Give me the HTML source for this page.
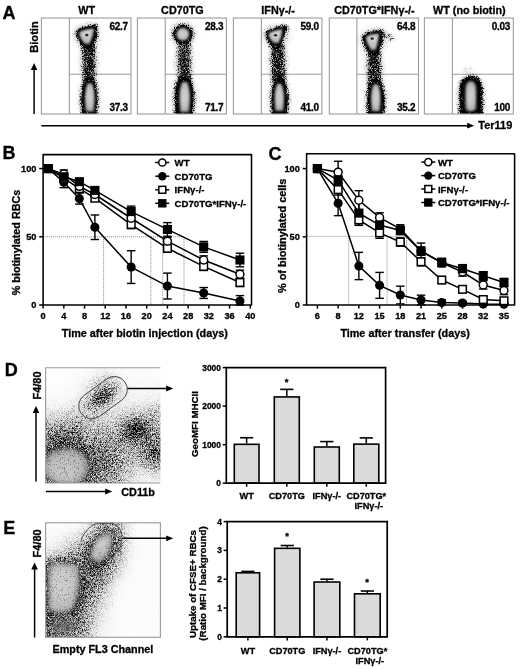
<!DOCTYPE html>
<html><head><meta charset="utf-8"><style>
html,body{margin:0;padding:0;background:#fff;}
svg{display:block;filter:blur(0.35px);}
text{font-family:"Liberation Sans", sans-serif;stroke:#000;stroke-width:0.3px;}
</style></head><body>
<svg width="520" height="669" viewBox="0 0 520 669">
<defs>
<filter id="dotb" x="-100%" y="-100%" width="300%" height="300%"><feGaussianBlur stdDeviation="0.4"/></filter>
<filter id="soft" x="-20%" y="-20%" width="140%" height="140%"><feGaussianBlur stdDeviation="0.9"/></filter>
<radialGradient id="gSoft"><stop offset="0" stop-color="#000" stop-opacity="1"/><stop offset="1" stop-color="#000" stop-opacity="0"/></radialGradient>
<radialGradient id="gPlat"><stop offset="0" stop-color="#000" stop-opacity="1"/><stop offset="0.55" stop-color="#000" stop-opacity="1"/><stop offset="1" stop-color="#000" stop-opacity="0"/></radialGradient>
<radialGradient id="gCore" cx="0.55" cy="0.35" r="0.62"><stop offset="0" stop-color="#d0d0d0"/><stop offset="0.3" stop-color="#d6d6d6"/><stop offset="0.45" stop-color="#b8b8b8"/><stop offset="0.6" stop-color="#cccccc"/><stop offset="0.85" stop-color="#b0b0b0"/><stop offset="1" stop-color="#808080"/></radialGradient>
<radialGradient id="gCoreL" cx="0.5" cy="0.5" r="0.55"><stop offset="0" stop-color="#d8d8d8"/><stop offset="0.7" stop-color="#c6c6c6"/><stop offset="0.9" stop-color="#a8a8a8"/><stop offset="1" stop-color="#909090"/></radialGradient>
<pattern id="barfill" width="2" height="2" patternUnits="userSpaceOnUse"><rect width="2" height="2" fill="#dddddd"/><rect width="1" height="1" fill="#d3d3d3"/></pattern>
<filter id="spA" filterUnits="userSpaceOnUse" x="0" y="0" width="520" height="669" color-interpolation-filters="sRGB">
<feGaussianBlur in="SourceAlpha" stdDeviation="1.1" result="d"/>
<feTurbulence type="fractalNoise" baseFrequency="1.5" numOctaves="1" seed="11" result="t"/>
<feColorMatrix in="t" type="matrix" values="0 0 0 0 0 0 0 0 0 0 0 0 0 0 0 1 0 0 0 0" result="ta"/>
<feComponentTransfer in="ta" result="u"><feFuncA type="table" tableValues="0.0000 0.0000 0.0001 0.0002 0.0004 0.0008 0.0016 0.0030 0.0056 0.0101 0.0174 0.0287 0.0456 0.0697 0.1026 0.1455 0.1992 0.2632 0.3364 0.4164 0.5000 0.5836 0.6636 0.7368 0.8008 0.8545 0.8974 0.9303 0.9544 0.9713 0.9826 0.9899 0.9944 0.9970 0.9984 0.9992 0.9996 0.9998 0.9999 1.0000 1.0000"/></feComponentTransfer>
<feTurbulence type="fractalNoise" baseFrequency="1.200" numOctaves="1" seed="111" result="t2"/>
<feColorMatrix in="t2" type="matrix" values="0 0 0 0 0 0 0 0 0 0 0 0 0 0 0 1 0 0 0 0" result="ta2"/>
<feComponentTransfer in="ta2" result="u2"><feFuncA type="table" tableValues="0.0000 0.0000 0.0001 0.0002 0.0004 0.0008 0.0016 0.0030 0.0056 0.0101 0.0174 0.0287 0.0456 0.0697 0.1026 0.1455 0.1992 0.2632 0.3364 0.4164 0.5000 0.5836 0.6636 0.7368 0.8008 0.8545 0.8974 0.9303 0.9544 0.9713 0.9826 0.9899 0.9944 0.9970 0.9984 0.9992 0.9996 0.9998 0.9999 1.0000 1.0000"/></feComponentTransfer>
<feComposite in="d" in2="u" operator="arithmetic" k1="0" k2="6" k3="-6" k4="0" result="c"/>
<feGaussianBlur in="c" stdDeviation="0.5" result="s"/>
<feComposite in="d" in2="u2" operator="arithmetic" k1="1.6" k2="0.19999999999999996" k3="0" k4="0" result="g0"/>
<feGaussianBlur in="g0" stdDeviation="0.4" result="g"/>
<feComposite in="s" in2="g" operator="arithmetic" k1="0" k2="0.6" k3="0.55" k4="0"/>
</filter>
<filter id="spH" filterUnits="userSpaceOnUse" x="0" y="0" width="520" height="669" color-interpolation-filters="sRGB">
<feGaussianBlur in="SourceAlpha" stdDeviation="2.6" result="d"/>
<feTurbulence type="fractalNoise" baseFrequency="1.5" numOctaves="1" seed="5" result="t"/>
<feColorMatrix in="t" type="matrix" values="0 0 0 0 0 0 0 0 0 0 0 0 0 0 0 1 0 0 0 0" result="ta"/>
<feComponentTransfer in="ta" result="u"><feFuncA type="table" tableValues="0.0000 0.0000 0.0001 0.0002 0.0004 0.0008 0.0016 0.0030 0.0056 0.0101 0.0174 0.0287 0.0456 0.0697 0.1026 0.1455 0.1992 0.2632 0.3364 0.4164 0.5000 0.5836 0.6636 0.7368 0.8008 0.8545 0.8974 0.9303 0.9544 0.9713 0.9826 0.9899 0.9944 0.9970 0.9984 0.9992 0.9996 0.9998 0.9999 1.0000 1.0000"/></feComponentTransfer>
<feTurbulence type="fractalNoise" baseFrequency="1.200" numOctaves="1" seed="105" result="t2"/>
<feColorMatrix in="t2" type="matrix" values="0 0 0 0 0 0 0 0 0 0 0 0 0 0 0 1 0 0 0 0" result="ta2"/>
<feComponentTransfer in="ta2" result="u2"><feFuncA type="table" tableValues="0.0000 0.0000 0.0001 0.0002 0.0004 0.0008 0.0016 0.0030 0.0056 0.0101 0.0174 0.0287 0.0456 0.0697 0.1026 0.1455 0.1992 0.2632 0.3364 0.4164 0.5000 0.5836 0.6636 0.7368 0.8008 0.8545 0.8974 0.9303 0.9544 0.9713 0.9826 0.9899 0.9944 0.9970 0.9984 0.9992 0.9996 0.9998 0.9999 1.0000 1.0000"/></feComponentTransfer>
<feComposite in="d" in2="u" operator="arithmetic" k1="0" k2="4" k3="-4" k4="0" result="c"/>
<feGaussianBlur in="c" stdDeviation="0.55" result="s"/>
<feComposite in="d" in2="u2" operator="arithmetic" k1="1.6" k2="0.19999999999999996" k3="0" k4="0" result="g0"/>
<feGaussianBlur in="g0" stdDeviation="0.4" result="g"/>
<feComposite in="s" in2="g" operator="arithmetic" k1="0" k2="0.7" k3="0.35" k4="0"/>
</filter>
<radialGradient id="gCoreB" cx="0.5" cy="0.5" r="0.6"><stop offset="0" stop-color="#d2d2d2"/><stop offset="0.55" stop-color="#c2c2c2"/><stop offset="0.8" stop-color="#a6a6a6"/><stop offset="1" stop-color="#7a7a7a"/></radialGradient>
<clipPath id="clA0"><rect x="41.4" y="18" width="89.6" height="96"/></clipPath>
<clipPath id="clA1"><rect x="137.4" y="18" width="89.0" height="96"/></clipPath>
<clipPath id="clA2"><rect x="233.4" y="18" width="88.49999999999997" height="96"/></clipPath>
<clipPath id="clA3"><rect x="329.3" y="18" width="89.19999999999999" height="96"/></clipPath>
<clipPath id="clA4"><rect x="424.4" y="18" width="88.89999999999998" height="96"/></clipPath>
<filter id="spG" filterUnits="userSpaceOnUse" x="0" y="0" width="520" height="669" color-interpolation-filters="sRGB">
<feGaussianBlur in="SourceAlpha" stdDeviation="4.0" result="d"/>
<feTurbulence type="fractalNoise" baseFrequency="1.5" numOctaves="1" seed="23" result="t"/>
<feColorMatrix in="t" type="matrix" values="0 0 0 0 0 0 0 0 0 0 0 0 0 0 0 1 0 0 0 0" result="ta"/>
<feComponentTransfer in="ta" result="u"><feFuncA type="table" tableValues="0.0000 0.0000 0.0001 0.0002 0.0004 0.0008 0.0016 0.0030 0.0056 0.0101 0.0174 0.0287 0.0456 0.0697 0.1026 0.1455 0.1992 0.2632 0.3364 0.4164 0.5000 0.5836 0.6636 0.7368 0.8008 0.8545 0.8974 0.9303 0.9544 0.9713 0.9826 0.9899 0.9944 0.9970 0.9984 0.9992 0.9996 0.9998 0.9999 1.0000 1.0000"/></feComponentTransfer>
<feTurbulence type="fractalNoise" baseFrequency="1.200" numOctaves="1" seed="123" result="t2"/>
<feColorMatrix in="t2" type="matrix" values="0 0 0 0 0 0 0 0 0 0 0 0 0 0 0 1 0 0 0 0" result="ta2"/>
<feComponentTransfer in="ta2" result="u2"><feFuncA type="table" tableValues="0.0000 0.0000 0.0001 0.0002 0.0004 0.0008 0.0016 0.0030 0.0056 0.0101 0.0174 0.0287 0.0456 0.0697 0.1026 0.1455 0.1992 0.2632 0.3364 0.4164 0.5000 0.5836 0.6636 0.7368 0.8008 0.8545 0.8974 0.9303 0.9544 0.9713 0.9826 0.9899 0.9944 0.9970 0.9984 0.9992 0.9996 0.9998 0.9999 1.0000 1.0000"/></feComponentTransfer>
<feComposite in="d" in2="u" operator="arithmetic" k1="0" k2="3" k3="-3" k4="0" result="c"/>
<feGaussianBlur in="c" stdDeviation="0.6" result="s"/>
<feComposite in="d" in2="u2" operator="arithmetic" k1="1.7" k2="0.15000000000000002" k3="0" k4="0" result="g0"/>
<feGaussianBlur in="g0" stdDeviation="0.45" result="g"/>
<feComposite in="s" in2="g" operator="arithmetic" k1="0" k2="0.45" k3="0.6" k4="0"/>
</filter>
<filter id="spG2" filterUnits="userSpaceOnUse" x="0" y="0" width="520" height="669" color-interpolation-filters="sRGB">
<feGaussianBlur in="SourceAlpha" stdDeviation="4.0" result="d"/>
<feTurbulence type="fractalNoise" baseFrequency="1.5" numOctaves="1" seed="41" result="t"/>
<feColorMatrix in="t" type="matrix" values="0 0 0 0 0 0 0 0 0 0 0 0 0 0 0 1 0 0 0 0" result="ta"/>
<feComponentTransfer in="ta" result="u"><feFuncA type="table" tableValues="0.0000 0.0000 0.0001 0.0002 0.0004 0.0008 0.0016 0.0030 0.0056 0.0101 0.0174 0.0287 0.0456 0.0697 0.1026 0.1455 0.1992 0.2632 0.3364 0.4164 0.5000 0.5836 0.6636 0.7368 0.8008 0.8545 0.8974 0.9303 0.9544 0.9713 0.9826 0.9899 0.9944 0.9970 0.9984 0.9992 0.9996 0.9998 0.9999 1.0000 1.0000"/></feComponentTransfer>
<feTurbulence type="fractalNoise" baseFrequency="1.200" numOctaves="1" seed="141" result="t2"/>
<feColorMatrix in="t2" type="matrix" values="0 0 0 0 0 0 0 0 0 0 0 0 0 0 0 1 0 0 0 0" result="ta2"/>
<feComponentTransfer in="ta2" result="u2"><feFuncA type="table" tableValues="0.0000 0.0000 0.0001 0.0002 0.0004 0.0008 0.0016 0.0030 0.0056 0.0101 0.0174 0.0287 0.0456 0.0697 0.1026 0.1455 0.1992 0.2632 0.3364 0.4164 0.5000 0.5836 0.6636 0.7368 0.8008 0.8545 0.8974 0.9303 0.9544 0.9713 0.9826 0.9899 0.9944 0.9970 0.9984 0.9992 0.9996 0.9998 0.9999 1.0000 1.0000"/></feComponentTransfer>
<feComposite in="d" in2="u" operator="arithmetic" k1="0" k2="3" k3="-3" k4="0" result="c"/>
<feGaussianBlur in="c" stdDeviation="0.6" result="s"/>
<feComposite in="d" in2="u2" operator="arithmetic" k1="1.7" k2="0.15000000000000002" k3="0" k4="0" result="g0"/>
<feGaussianBlur in="g0" stdDeviation="0.45" result="g"/>
<feComposite in="s" in2="g" operator="arithmetic" k1="0" k2="0.45" k3="0.6" k4="0"/>
</filter>
<filter id="spT" filterUnits="userSpaceOnUse" x="0" y="0" width="520" height="669" color-interpolation-filters="sRGB">
<feGaussianBlur in="SourceAlpha" stdDeviation="2.0" result="d"/>
<feTurbulence type="fractalNoise" baseFrequency="1.5" numOctaves="1" seed="53" result="t"/>
<feColorMatrix in="t" type="matrix" values="0 0 0 0 0 0 0 0 0 0 0 0 0 0 0 1 0 0 0 0" result="ta"/>
<feComponentTransfer in="ta" result="u"><feFuncA type="table" tableValues="0.0000 0.0000 0.0001 0.0002 0.0004 0.0008 0.0016 0.0030 0.0056 0.0101 0.0174 0.0287 0.0456 0.0697 0.1026 0.1455 0.1992 0.2632 0.3364 0.4164 0.5000 0.5836 0.6636 0.7368 0.8008 0.8545 0.8974 0.9303 0.9544 0.9713 0.9826 0.9899 0.9944 0.9970 0.9984 0.9992 0.9996 0.9998 0.9999 1.0000 1.0000"/></feComponentTransfer>
<feComposite in="d" in2="u" operator="arithmetic" k1="0" k2="3" k3="-3" k4="0" result="c"/>
<feGaussianBlur in="c" stdDeviation="0.6" result="s"/>
<feComposite in="s" in2="d" operator="arithmetic" k1="0" k2="0.7" k3="0.15" k4="0"/>
</filter>
<filter id="blur25" x="-50%" y="-50%" width="200%" height="200%"><feGaussianBlur stdDeviation="2.5"/></filter>
<filter id="blur3" x="-50%" y="-50%" width="200%" height="200%"><feGaussianBlur stdDeviation="3"/></filter>
<filter id="blur15" x="-50%" y="-50%" width="200%" height="200%"><feGaussianBlur stdDeviation="1.5"/></filter>
<clipPath id="clD"><rect x="45.6" y="367.7" width="114.80000000000001" height="115.30000000000001"/></clipPath>
<clipPath id="clE"><rect x="45.6" y="522.8" width="114.80000000000001" height="114.5"/></clipPath>
</defs>
<rect width="520" height="669" fill="#fff"/>
<text x="2.6" y="18.6" font-size="18" text-anchor="start" font-weight="bold" fill="#000">A</text>
<text x="86.7" y="13.7" font-size="10.8" text-anchor="middle" font-weight="bold" fill="#000">WT</text>
<text x="182.4" y="13.7" font-size="10.8" text-anchor="middle" font-weight="bold" fill="#000">CD70TG</text>
<text x="278.15" y="13.7" font-size="10.8" text-anchor="middle" font-weight="bold" fill="#000">IFNγ-/-</text>
<text x="374.4" y="13.7" font-size="10.8" text-anchor="middle" font-weight="bold" fill="#000">CD70TG*IFNγ-/-</text>
<text x="469.34999999999997" y="13.7" font-size="10.8" text-anchor="middle" font-weight="bold" fill="#000">WT (no biotin)</text>
<text x="127.8" y="29.9" font-size="10" text-anchor="end" font-weight="bold" fill="#000" letter-spacing="-0.3">62.7</text>
<text x="127.8" y="110.6" font-size="10" text-anchor="end" font-weight="bold" fill="#000" letter-spacing="-0.3">37.3</text>
<text x="223.20000000000002" y="29.9" font-size="10" text-anchor="end" font-weight="bold" fill="#000" letter-spacing="-0.3">28.3</text>
<text x="223.20000000000002" y="110.6" font-size="10" text-anchor="end" font-weight="bold" fill="#000" letter-spacing="-0.3">71.7</text>
<text x="318.7" y="29.9" font-size="10" text-anchor="end" font-weight="bold" fill="#000" letter-spacing="-0.3">59.0</text>
<text x="318.7" y="110.6" font-size="10" text-anchor="end" font-weight="bold" fill="#000" letter-spacing="-0.3">41.0</text>
<text x="415.3" y="29.9" font-size="10" text-anchor="end" font-weight="bold" fill="#000" letter-spacing="-0.3">64.8</text>
<text x="415.3" y="110.6" font-size="10" text-anchor="end" font-weight="bold" fill="#000" letter-spacing="-0.3">35.2</text>
<text x="510.09999999999997" y="29.9" font-size="10" text-anchor="end" font-weight="bold" fill="#000" letter-spacing="-0.3">0.03</text>
<text x="510.09999999999997" y="110.6" font-size="10" text-anchor="end" font-weight="bold" fill="#000" letter-spacing="-0.3">100</text>
<text x="37.7" y="37.0" font-size="11.1" text-anchor="middle" font-weight="bold" fill="#000" transform="rotate(-90 37.7 37.0)">Biotin</text>
<line x1="34.1" y1="114" x2="34.1" y2="69.4" stroke="#000" stroke-width="1.5"/>
<path d="M34.1,62.9 L30.8,69.9 L37.4,69.9 Z" fill="#000" stroke="none" stroke-width="1.0"/>
<line x1="41.3" y1="125.7" x2="467.7" y2="125.7" stroke="#000" stroke-width="1.5"/>
<path d="M474.2,125.7 L467.2,122.8 L467.2,128.6 Z" fill="#000" stroke="none" stroke-width="1.0"/>
<text x="478.3" y="129.3" font-size="11.0" text-anchor="start" font-weight="bold" fill="#000">Ter119</text>
<text x="2.6" y="159.4" font-size="18" text-anchor="start" font-weight="bold" fill="#000">B</text>
<line x1="43.1" y1="236.8" x2="184.0" y2="236.8" stroke="#8a8a8a" stroke-width="1" stroke-dasharray="1 1"/>
<line x1="103.6" y1="236.8" x2="103.6" y2="305.0" stroke="#8a8a8a" stroke-width="1" stroke-dasharray="1 1"/>
<line x1="150.8" y1="236.8" x2="150.8" y2="305.0" stroke="#8a8a8a" stroke-width="1" stroke-dasharray="1 1"/>
<line x1="162.7" y1="236.8" x2="162.7" y2="305.0" stroke="#8a8a8a" stroke-width="1" stroke-dasharray="1 1"/>
<line x1="184.0" y1="236.8" x2="184.0" y2="305.0" stroke="#8a8a8a" stroke-width="1" stroke-dasharray="1 1"/>
<polyline points="48.28,168.60 63.82,182.24 79.36,198.61 94.90,227.25 131.16,267.08 167.42,286.04 203.68,293.00 239.94,301.04" fill="none" stroke="#000" stroke-width="1.5"/>
<polyline points="48.28,168.60 63.82,178.15 79.36,188.65 94.90,198.20 131.16,224.52 167.42,248.26 203.68,266.40 239.94,282.49" fill="none" stroke="#000" stroke-width="1.5"/>
<polyline points="48.28,168.60 63.82,174.06 79.36,186.33 94.90,194.52 131.16,218.25 167.42,241.16 203.68,259.99 239.94,274.31" fill="none" stroke="#000" stroke-width="1.5"/>
<polyline points="48.28,168.60 63.82,176.78 79.36,181.69 94.90,190.42 131.16,211.57 167.42,229.43 203.68,246.89 239.94,259.99" fill="none" stroke="#000" stroke-width="1.5"/>
<line x1="63.82" y1="176.784" x2="63.82" y2="187.696" stroke="#000" stroke-width="1.4"/>
<line x1="59.57" y1="176.784" x2="68.07" y2="176.784" stroke="#000" stroke-width="1.4"/>
<line x1="59.57" y1="187.696" x2="68.07" y2="187.696" stroke="#000" stroke-width="1.4"/>
<line x1="79.36" y1="193.152" x2="79.36" y2="204.064" stroke="#000" stroke-width="1.4"/>
<line x1="75.11" y1="193.152" x2="83.61" y2="193.152" stroke="#000" stroke-width="1.4"/>
<line x1="75.11" y1="204.064" x2="83.61" y2="204.064" stroke="#000" stroke-width="1.4"/>
<line x1="94.9" y1="214.976" x2="94.9" y2="239.528" stroke="#000" stroke-width="1.4"/>
<line x1="90.65" y1="214.976" x2="99.15" y2="214.976" stroke="#000" stroke-width="1.4"/>
<line x1="90.65" y1="239.528" x2="99.15" y2="239.528" stroke="#000" stroke-width="1.4"/>
<line x1="131.16" y1="250.71280000000002" x2="131.16" y2="283.4488" stroke="#000" stroke-width="1.4"/>
<line x1="126.91" y1="250.71280000000002" x2="135.41" y2="250.71280000000002" stroke="#000" stroke-width="1.4"/>
<line x1="126.91" y1="283.4488" x2="135.41" y2="283.4488" stroke="#000" stroke-width="1.4"/>
<line x1="167.42" y1="273.0824" x2="167.42" y2="298.9984" stroke="#000" stroke-width="1.4"/>
<line x1="163.17" y1="273.0824" x2="171.67" y2="273.0824" stroke="#000" stroke-width="1.4"/>
<line x1="163.17" y1="298.9984" x2="171.67" y2="298.9984" stroke="#000" stroke-width="1.4"/>
<line x1="203.67999999999998" y1="287.5408" x2="203.67999999999998" y2="298.4528" stroke="#000" stroke-width="1.4"/>
<line x1="199.42999999999998" y1="287.5408" x2="207.92999999999998" y2="287.5408" stroke="#000" stroke-width="1.4"/>
<line x1="199.42999999999998" y1="298.4528" x2="207.92999999999998" y2="298.4528" stroke="#000" stroke-width="1.4"/>
<line x1="239.93999999999997" y1="295.5884" x2="239.93999999999997" y2="305" stroke="#000" stroke-width="1.4"/>
<line x1="235.68999999999997" y1="295.5884" x2="244.18999999999997" y2="295.5884" stroke="#000" stroke-width="1.4"/>
<line x1="235.68999999999997" y1="305" x2="244.18999999999997" y2="305" stroke="#000" stroke-width="1.4"/>
<line x1="63.82" y1="174.05599999999998" x2="63.82" y2="182.24" stroke="#000" stroke-width="1.4"/>
<line x1="59.57" y1="174.05599999999998" x2="68.07" y2="174.05599999999998" stroke="#000" stroke-width="1.4"/>
<line x1="59.57" y1="182.24" x2="68.07" y2="182.24" stroke="#000" stroke-width="1.4"/>
<line x1="79.36" y1="185.9228" x2="79.36" y2="191.3788" stroke="#000" stroke-width="1.4"/>
<line x1="75.11" y1="185.9228" x2="83.61" y2="185.9228" stroke="#000" stroke-width="1.4"/>
<line x1="75.11" y1="191.3788" x2="83.61" y2="191.3788" stroke="#000" stroke-width="1.4"/>
<line x1="94.9" y1="195.4708" x2="94.9" y2="200.92680000000001" stroke="#000" stroke-width="1.4"/>
<line x1="90.65" y1="195.4708" x2="99.15" y2="195.4708" stroke="#000" stroke-width="1.4"/>
<line x1="90.65" y1="200.92680000000001" x2="99.15" y2="200.92680000000001" stroke="#000" stroke-width="1.4"/>
<line x1="131.16" y1="220.432" x2="131.16" y2="228.61599999999999" stroke="#000" stroke-width="1.4"/>
<line x1="126.91" y1="220.432" x2="135.41" y2="220.432" stroke="#000" stroke-width="1.4"/>
<line x1="126.91" y1="228.61599999999999" x2="135.41" y2="228.61599999999999" stroke="#000" stroke-width="1.4"/>
<line x1="167.42" y1="244.16559999999998" x2="167.42" y2="252.3496" stroke="#000" stroke-width="1.4"/>
<line x1="163.17" y1="244.16559999999998" x2="171.67" y2="244.16559999999998" stroke="#000" stroke-width="1.4"/>
<line x1="163.17" y1="252.3496" x2="171.67" y2="252.3496" stroke="#000" stroke-width="1.4"/>
<line x1="203.67999999999998" y1="262.3068" x2="203.67999999999998" y2="270.4908" stroke="#000" stroke-width="1.4"/>
<line x1="199.42999999999998" y1="262.3068" x2="207.92999999999998" y2="262.3068" stroke="#000" stroke-width="1.4"/>
<line x1="199.42999999999998" y1="270.4908" x2="207.92999999999998" y2="270.4908" stroke="#000" stroke-width="1.4"/>
<line x1="239.93999999999997" y1="278.402" x2="239.93999999999997" y2="286.586" stroke="#000" stroke-width="1.4"/>
<line x1="235.68999999999997" y1="278.402" x2="244.18999999999997" y2="278.402" stroke="#000" stroke-width="1.4"/>
<line x1="235.68999999999997" y1="286.586" x2="244.18999999999997" y2="286.586" stroke="#000" stroke-width="1.4"/>
<line x1="63.82" y1="169.964" x2="63.82" y2="178.148" stroke="#000" stroke-width="1.4"/>
<line x1="59.57" y1="169.964" x2="68.07" y2="169.964" stroke="#000" stroke-width="1.4"/>
<line x1="59.57" y1="178.148" x2="68.07" y2="178.148" stroke="#000" stroke-width="1.4"/>
<line x1="79.36" y1="183.60399999999998" x2="79.36" y2="189.06" stroke="#000" stroke-width="1.4"/>
<line x1="75.11" y1="183.60399999999998" x2="83.61" y2="183.60399999999998" stroke="#000" stroke-width="1.4"/>
<line x1="75.11" y1="189.06" x2="83.61" y2="189.06" stroke="#000" stroke-width="1.4"/>
<line x1="94.9" y1="191.788" x2="94.9" y2="197.24399999999997" stroke="#000" stroke-width="1.4"/>
<line x1="90.65" y1="191.788" x2="99.15" y2="191.788" stroke="#000" stroke-width="1.4"/>
<line x1="90.65" y1="197.24399999999997" x2="99.15" y2="197.24399999999997" stroke="#000" stroke-width="1.4"/>
<line x1="131.16" y1="214.1576" x2="131.16" y2="222.34159999999997" stroke="#000" stroke-width="1.4"/>
<line x1="126.91" y1="214.1576" x2="135.41" y2="214.1576" stroke="#000" stroke-width="1.4"/>
<line x1="126.91" y1="222.34159999999997" x2="135.41" y2="222.34159999999997" stroke="#000" stroke-width="1.4"/>
<line x1="167.42" y1="237.0728" x2="167.42" y2="245.2568" stroke="#000" stroke-width="1.4"/>
<line x1="163.17" y1="237.0728" x2="171.67" y2="237.0728" stroke="#000" stroke-width="1.4"/>
<line x1="163.17" y1="245.2568" x2="171.67" y2="245.2568" stroke="#000" stroke-width="1.4"/>
<line x1="203.67999999999998" y1="255.896" x2="203.67999999999998" y2="264.08" stroke="#000" stroke-width="1.4"/>
<line x1="199.42999999999998" y1="255.896" x2="207.92999999999998" y2="255.896" stroke="#000" stroke-width="1.4"/>
<line x1="199.42999999999998" y1="264.08" x2="207.92999999999998" y2="264.08" stroke="#000" stroke-width="1.4"/>
<line x1="239.93999999999997" y1="270.218" x2="239.93999999999997" y2="278.402" stroke="#000" stroke-width="1.4"/>
<line x1="235.68999999999997" y1="270.218" x2="244.18999999999997" y2="270.218" stroke="#000" stroke-width="1.4"/>
<line x1="235.68999999999997" y1="278.402" x2="244.18999999999997" y2="278.402" stroke="#000" stroke-width="1.4"/>
<line x1="63.82" y1="172.69199999999998" x2="63.82" y2="180.87599999999998" stroke="#000" stroke-width="1.4"/>
<line x1="59.57" y1="172.69199999999998" x2="68.07" y2="172.69199999999998" stroke="#000" stroke-width="1.4"/>
<line x1="59.57" y1="180.87599999999998" x2="68.07" y2="180.87599999999998" stroke="#000" stroke-width="1.4"/>
<line x1="79.36" y1="178.96639999999996" x2="79.36" y2="184.42239999999998" stroke="#000" stroke-width="1.4"/>
<line x1="75.11" y1="178.96639999999996" x2="83.61" y2="178.96639999999996" stroke="#000" stroke-width="1.4"/>
<line x1="75.11" y1="184.42239999999998" x2="83.61" y2="184.42239999999998" stroke="#000" stroke-width="1.4"/>
<line x1="94.9" y1="187.696" x2="94.9" y2="193.152" stroke="#000" stroke-width="1.4"/>
<line x1="90.65" y1="187.696" x2="99.15" y2="187.696" stroke="#000" stroke-width="1.4"/>
<line x1="90.65" y1="193.152" x2="99.15" y2="193.152" stroke="#000" stroke-width="1.4"/>
<line x1="131.16" y1="206.11" x2="131.16" y2="217.022" stroke="#000" stroke-width="1.4"/>
<line x1="126.91" y1="206.11" x2="135.41" y2="206.11" stroke="#000" stroke-width="1.4"/>
<line x1="126.91" y1="217.022" x2="135.41" y2="217.022" stroke="#000" stroke-width="1.4"/>
<line x1="167.42" y1="222.6144" x2="167.42" y2="236.25439999999998" stroke="#000" stroke-width="1.4"/>
<line x1="163.17" y1="222.6144" x2="171.67" y2="222.6144" stroke="#000" stroke-width="1.4"/>
<line x1="163.17" y1="236.25439999999998" x2="171.67" y2="236.25439999999998" stroke="#000" stroke-width="1.4"/>
<line x1="203.67999999999998" y1="241.4376" x2="203.67999999999998" y2="252.3496" stroke="#000" stroke-width="1.4"/>
<line x1="199.42999999999998" y1="241.4376" x2="207.92999999999998" y2="241.4376" stroke="#000" stroke-width="1.4"/>
<line x1="199.42999999999998" y1="252.3496" x2="207.92999999999998" y2="252.3496" stroke="#000" stroke-width="1.4"/>
<line x1="239.93999999999997" y1="253.168" x2="239.93999999999997" y2="266.808" stroke="#000" stroke-width="1.4"/>
<line x1="235.68999999999997" y1="253.168" x2="244.18999999999997" y2="253.168" stroke="#000" stroke-width="1.4"/>
<line x1="235.68999999999997" y1="266.808" x2="244.18999999999997" y2="266.808" stroke="#000" stroke-width="1.4"/>
<circle cx="48.28" cy="168.6" r="4.55" fill="#000"/>
<circle cx="63.82" cy="182.24" r="4.55" fill="#000"/>
<circle cx="79.36" cy="198.608" r="4.55" fill="#000"/>
<circle cx="94.9" cy="227.252" r="4.55" fill="#000"/>
<circle cx="131.16" cy="267.0808" r="4.55" fill="#000"/>
<circle cx="167.42" cy="286.0404" r="4.55" fill="#000"/>
<circle cx="203.67999999999998" cy="292.9968" r="4.55" fill="#000"/>
<circle cx="239.93999999999997" cy="301.0444" r="4.55" fill="#000"/>
<rect x="44.480000000000004" y="164.79999999999998" width="7.6" height="7.6" fill="#fff" stroke="#000" stroke-width="1.5"/>
<rect x="60.02" y="174.34799999999998" width="7.6" height="7.6" fill="#fff" stroke="#000" stroke-width="1.5"/>
<rect x="75.56" y="184.8508" width="7.6" height="7.6" fill="#fff" stroke="#000" stroke-width="1.5"/>
<rect x="91.10000000000001" y="194.3988" width="7.6" height="7.6" fill="#fff" stroke="#000" stroke-width="1.5"/>
<rect x="127.36" y="220.724" width="7.6" height="7.6" fill="#fff" stroke="#000" stroke-width="1.5"/>
<rect x="163.61999999999998" y="244.45759999999999" width="7.6" height="7.6" fill="#fff" stroke="#000" stroke-width="1.5"/>
<rect x="199.87999999999997" y="262.5988" width="7.6" height="7.6" fill="#fff" stroke="#000" stroke-width="1.5"/>
<rect x="236.13999999999996" y="278.694" width="7.6" height="7.6" fill="#fff" stroke="#000" stroke-width="1.5"/>
<circle cx="48.28" cy="168.6" r="3.9499999999999997" fill="#fff" stroke="#000" stroke-width="1.5"/>
<circle cx="63.82" cy="174.05599999999998" r="3.9499999999999997" fill="#fff" stroke="#000" stroke-width="1.5"/>
<circle cx="79.36" cy="186.332" r="3.9499999999999997" fill="#fff" stroke="#000" stroke-width="1.5"/>
<circle cx="94.9" cy="194.516" r="3.9499999999999997" fill="#fff" stroke="#000" stroke-width="1.5"/>
<circle cx="131.16" cy="218.2496" r="3.9499999999999997" fill="#fff" stroke="#000" stroke-width="1.5"/>
<circle cx="167.42" cy="241.1648" r="3.9499999999999997" fill="#fff" stroke="#000" stroke-width="1.5"/>
<circle cx="203.67999999999998" cy="259.988" r="3.9499999999999997" fill="#fff" stroke="#000" stroke-width="1.5"/>
<circle cx="239.93999999999997" cy="274.31" r="3.9499999999999997" fill="#fff" stroke="#000" stroke-width="1.5"/>
<rect x="43.730000000000004" y="164.04999999999998" width="9.1" height="9.1" fill="#000"/>
<rect x="59.27" y="172.23399999999998" width="9.1" height="9.1" fill="#000"/>
<rect x="74.81" y="177.14439999999996" width="9.1" height="9.1" fill="#000"/>
<rect x="90.35000000000001" y="185.87399999999997" width="9.1" height="9.1" fill="#000"/>
<rect x="126.61" y="207.01599999999996" width="9.1" height="9.1" fill="#000"/>
<rect x="162.86999999999998" y="224.88439999999997" width="9.1" height="9.1" fill="#000"/>
<rect x="199.12999999999997" y="242.34359999999998" width="9.1" height="9.1" fill="#000"/>
<rect x="235.38999999999996" y="255.438" width="9.1" height="9.1" fill="#000"/>
<rect x="43.1" y="154.6" width="208.4" height="150.4" fill="none" stroke="#000" stroke-width="1.55" stroke-linejoin="round"/>
<line x1="39.2" y1="305.0" x2="43.1" y2="305.0" stroke="#000" stroke-width="1.5"/>
<text x="36.4" y="308.4" font-size="9.2" text-anchor="end" font-weight="bold" fill="#000">0</text>
<line x1="39.2" y1="236.8" x2="43.1" y2="236.8" stroke="#000" stroke-width="1.5"/>
<text x="36.4" y="240.20000000000002" font-size="9.2" text-anchor="end" font-weight="bold" fill="#000">50</text>
<line x1="39.2" y1="168.6" x2="43.1" y2="168.6" stroke="#000" stroke-width="1.5"/>
<text x="36.4" y="172.0" font-size="9.2" text-anchor="end" font-weight="bold" fill="#000">100</text>
<line x1="43.1" y1="305.0" x2="43.1" y2="308.6" stroke="#000" stroke-width="1.5"/>
<text x="43.1" y="319.4" font-size="9.2" text-anchor="middle" font-weight="bold" fill="#000">0</text>
<line x1="63.82" y1="305.0" x2="63.82" y2="308.6" stroke="#000" stroke-width="1.5"/>
<text x="63.82" y="319.4" font-size="9.2" text-anchor="middle" font-weight="bold" fill="#000">4</text>
<line x1="84.53999999999999" y1="305.0" x2="84.53999999999999" y2="308.6" stroke="#000" stroke-width="1.5"/>
<text x="84.53999999999999" y="319.4" font-size="9.2" text-anchor="middle" font-weight="bold" fill="#000">8</text>
<line x1="105.25999999999999" y1="305.0" x2="105.25999999999999" y2="308.6" stroke="#000" stroke-width="1.5"/>
<text x="105.25999999999999" y="319.4" font-size="9.2" text-anchor="middle" font-weight="bold" fill="#000">12</text>
<line x1="125.97999999999999" y1="305.0" x2="125.97999999999999" y2="308.6" stroke="#000" stroke-width="1.5"/>
<text x="125.97999999999999" y="319.4" font-size="9.2" text-anchor="middle" font-weight="bold" fill="#000">16</text>
<line x1="146.7" y1="305.0" x2="146.7" y2="308.6" stroke="#000" stroke-width="1.5"/>
<text x="146.7" y="319.4" font-size="9.2" text-anchor="middle" font-weight="bold" fill="#000">20</text>
<line x1="167.42" y1="305.0" x2="167.42" y2="308.6" stroke="#000" stroke-width="1.5"/>
<text x="167.42" y="319.4" font-size="9.2" text-anchor="middle" font-weight="bold" fill="#000">24</text>
<line x1="188.14" y1="305.0" x2="188.14" y2="308.6" stroke="#000" stroke-width="1.5"/>
<text x="188.14" y="319.4" font-size="9.2" text-anchor="middle" font-weight="bold" fill="#000">28</text>
<line x1="208.85999999999999" y1="305.0" x2="208.85999999999999" y2="308.6" stroke="#000" stroke-width="1.5"/>
<text x="208.85999999999999" y="319.4" font-size="9.2" text-anchor="middle" font-weight="bold" fill="#000">32</text>
<line x1="229.57999999999998" y1="305.0" x2="229.57999999999998" y2="308.6" stroke="#000" stroke-width="1.5"/>
<text x="229.57999999999998" y="319.4" font-size="9.2" text-anchor="middle" font-weight="bold" fill="#000">36</text>
<line x1="250.29999999999998" y1="305.0" x2="250.29999999999998" y2="308.6" stroke="#000" stroke-width="1.5"/>
<text x="250.29999999999998" y="319.4" font-size="9.2" text-anchor="middle" font-weight="bold" fill="#000">40</text>
<text x="144.8" y="337.0" font-size="10.8" text-anchor="middle" font-weight="bold" fill="#000">Time after biotin injection (days)</text>
<text x="19.6" y="242.5" font-size="10.8" text-anchor="middle" font-weight="bold" fill="#000" transform="rotate(-90 19.6 242.5)">% biotinylated RBCs</text>
<line x1="155.3" y1="162.5" x2="169.3" y2="162.5" stroke="#000" stroke-width="1.5"/>
<circle cx="162.3" cy="162.5" r="3.6" fill="#fff" stroke="#000" stroke-width="1.5"/>
<text x="174.6" y="166.0" font-size="9.65" text-anchor="start" font-weight="bold" fill="#000">WT</text>
<line x1="155.3" y1="176.2" x2="169.3" y2="176.2" stroke="#000" stroke-width="1.5"/>
<circle cx="162.3" cy="176.2" r="4.2" fill="#000"/>
<text x="174.6" y="179.7" font-size="9.65" text-anchor="start" font-weight="bold" fill="#000">CD70TG</text>
<line x1="155.3" y1="189.8" x2="169.3" y2="189.8" stroke="#000" stroke-width="1.5"/>
<rect x="158.85000000000002" y="186.35000000000002" width="6.9" height="6.9" fill="#fff" stroke="#000" stroke-width="1.5"/>
<text x="174.6" y="193.3" font-size="9.65" text-anchor="start" font-weight="bold" fill="#000">IFNγ-/-</text>
<line x1="155.3" y1="203.3" x2="169.3" y2="203.3" stroke="#000" stroke-width="1.5"/>
<rect x="158.10000000000002" y="199.10000000000002" width="8.4" height="8.4" fill="#000"/>
<text x="174.6" y="206.8" font-size="9.65" text-anchor="start" font-weight="bold" fill="#000">CD70TG*IFNγ-/-</text>
<text x="268.4" y="159.6" font-size="18" text-anchor="start" font-weight="bold" fill="#000">C</text>
<line x1="306.6" y1="236.3" x2="406.5" y2="236.3" stroke="#8a8a8a" stroke-width="1" stroke-dasharray="1 1"/>
<line x1="348.7" y1="236.3" x2="348.7" y2="305.0" stroke="#8a8a8a" stroke-width="1" stroke-dasharray="1 1"/>
<line x1="387.1" y1="236.3" x2="387.1" y2="305.0" stroke="#8a8a8a" stroke-width="1" stroke-dasharray="1 1"/>
<line x1="406.5" y1="236.3" x2="406.5" y2="305.0" stroke="#8a8a8a" stroke-width="1" stroke-dasharray="1 1"/>
<polyline points="317.40,168.60 338.13,203.38 358.86,265.99 379.59,285.36 400.32,295.04 421.05,299.95 441.78,302.54 462.51,303.09 483.24,304.05 503.97,304.32" fill="none" stroke="#000" stroke-width="1.5"/>
<polyline points="317.40,168.60 338.13,189.61 358.86,219.89 379.59,232.84 400.32,241.98 421.05,261.76 441.78,280.04 462.51,289.31 483.24,299.54 503.97,300.77" fill="none" stroke="#000" stroke-width="1.5"/>
<polyline points="317.40,168.60 338.13,172.15 358.86,200.24 379.59,217.57 400.32,228.89 421.05,250.99 441.78,262.72 462.51,271.99 483.24,284.95 503.97,290.54" fill="none" stroke="#000" stroke-width="1.5"/>
<polyline points="317.40,168.60 338.13,180.06 358.86,213.07 379.59,225.07 400.32,230.53 421.05,251.26 441.78,262.44 462.51,268.72 483.24,275.81 503.97,282.49" fill="none" stroke="#000" stroke-width="1.5"/>
<line x1="338.13" y1="191.106" x2="338.13" y2="215.658" stroke="#000" stroke-width="1.4"/>
<line x1="333.88" y1="191.106" x2="342.38" y2="191.106" stroke="#000" stroke-width="1.4"/>
<line x1="333.88" y1="215.658" x2="342.38" y2="215.658" stroke="#000" stroke-width="1.4"/>
<line x1="358.85999999999996" y1="252.3496" x2="358.85999999999996" y2="279.6296" stroke="#000" stroke-width="1.4"/>
<line x1="354.60999999999996" y1="252.3496" x2="363.10999999999996" y2="252.3496" stroke="#000" stroke-width="1.4"/>
<line x1="354.60999999999996" y1="279.6296" x2="363.10999999999996" y2="279.6296" stroke="#000" stroke-width="1.4"/>
<line x1="379.59" y1="272.4004" x2="379.59" y2="298.3164" stroke="#000" stroke-width="1.4"/>
<line x1="375.34" y1="272.4004" x2="383.84" y2="272.4004" stroke="#000" stroke-width="1.4"/>
<line x1="375.34" y1="298.3164" x2="383.84" y2="298.3164" stroke="#000" stroke-width="1.4"/>
<line x1="400.32" y1="286.1768" x2="400.32" y2="303.9088" stroke="#000" stroke-width="1.4"/>
<line x1="396.07" y1="286.1768" x2="404.57" y2="286.1768" stroke="#000" stroke-width="1.4"/>
<line x1="396.07" y1="303.9088" x2="404.57" y2="303.9088" stroke="#000" stroke-width="1.4"/>
<line x1="421.04999999999995" y1="295.1792" x2="421.04999999999995" y2="304.7272" stroke="#000" stroke-width="1.4"/>
<line x1="416.79999999999995" y1="295.1792" x2="425.29999999999995" y2="295.1792" stroke="#000" stroke-width="1.4"/>
<line x1="416.79999999999995" y1="304.7272" x2="425.29999999999995" y2="304.7272" stroke="#000" stroke-width="1.4"/>
<line x1="441.78" y1="299.8168" x2="441.78" y2="305" stroke="#000" stroke-width="1.4"/>
<line x1="437.53" y1="299.8168" x2="446.03" y2="299.8168" stroke="#000" stroke-width="1.4"/>
<line x1="437.53" y1="305" x2="446.03" y2="305" stroke="#000" stroke-width="1.4"/>
<line x1="462.51" y1="301.0444" x2="462.51" y2="305" stroke="#000" stroke-width="1.4"/>
<line x1="458.26" y1="301.0444" x2="466.76" y2="301.0444" stroke="#000" stroke-width="1.4"/>
<line x1="458.26" y1="305" x2="466.76" y2="305" stroke="#000" stroke-width="1.4"/>
<line x1="483.24" y1="302.6812" x2="483.24" y2="305" stroke="#000" stroke-width="1.4"/>
<line x1="478.99" y1="302.6812" x2="487.49" y2="302.6812" stroke="#000" stroke-width="1.4"/>
<line x1="478.99" y1="305" x2="487.49" y2="305" stroke="#000" stroke-width="1.4"/>
<line x1="503.96999999999997" y1="302.954" x2="503.96999999999997" y2="305" stroke="#000" stroke-width="1.4"/>
<line x1="499.71999999999997" y1="302.954" x2="508.21999999999997" y2="302.954" stroke="#000" stroke-width="1.4"/>
<line x1="499.71999999999997" y1="305" x2="508.21999999999997" y2="305" stroke="#000" stroke-width="1.4"/>
<line x1="338.13" y1="184.1496" x2="338.13" y2="195.0616" stroke="#000" stroke-width="1.4"/>
<line x1="333.88" y1="184.1496" x2="342.38" y2="184.1496" stroke="#000" stroke-width="1.4"/>
<line x1="333.88" y1="195.0616" x2="342.38" y2="195.0616" stroke="#000" stroke-width="1.4"/>
<line x1="358.85999999999996" y1="214.4304" x2="358.85999999999996" y2="225.3424" stroke="#000" stroke-width="1.4"/>
<line x1="354.60999999999996" y1="214.4304" x2="363.10999999999996" y2="214.4304" stroke="#000" stroke-width="1.4"/>
<line x1="354.60999999999996" y1="225.3424" x2="363.10999999999996" y2="225.3424" stroke="#000" stroke-width="1.4"/>
<line x1="379.59" y1="227.3884" x2="379.59" y2="238.3004" stroke="#000" stroke-width="1.4"/>
<line x1="375.34" y1="227.3884" x2="383.84" y2="227.3884" stroke="#000" stroke-width="1.4"/>
<line x1="375.34" y1="238.3004" x2="383.84" y2="238.3004" stroke="#000" stroke-width="1.4"/>
<line x1="400.32" y1="237.8912" x2="400.32" y2="246.0752" stroke="#000" stroke-width="1.4"/>
<line x1="396.07" y1="237.8912" x2="404.57" y2="237.8912" stroke="#000" stroke-width="1.4"/>
<line x1="396.07" y1="246.0752" x2="404.57" y2="246.0752" stroke="#000" stroke-width="1.4"/>
<line x1="421.04999999999995" y1="257.6692" x2="421.04999999999995" y2="265.8532" stroke="#000" stroke-width="1.4"/>
<line x1="416.79999999999995" y1="257.6692" x2="425.29999999999995" y2="257.6692" stroke="#000" stroke-width="1.4"/>
<line x1="416.79999999999995" y1="265.8532" x2="425.29999999999995" y2="265.8532" stroke="#000" stroke-width="1.4"/>
<line x1="441.78" y1="276.6288" x2="441.78" y2="283.4488" stroke="#000" stroke-width="1.4"/>
<line x1="437.53" y1="276.6288" x2="446.03" y2="276.6288" stroke="#000" stroke-width="1.4"/>
<line x1="437.53" y1="283.4488" x2="446.03" y2="283.4488" stroke="#000" stroke-width="1.4"/>
<line x1="462.51" y1="286.586" x2="462.51" y2="292.042" stroke="#000" stroke-width="1.4"/>
<line x1="458.26" y1="286.586" x2="466.76" y2="286.586" stroke="#000" stroke-width="1.4"/>
<line x1="458.26" y1="292.042" x2="466.76" y2="292.042" stroke="#000" stroke-width="1.4"/>
<line x1="483.24" y1="296.816" x2="483.24" y2="302.272" stroke="#000" stroke-width="1.4"/>
<line x1="478.99" y1="296.816" x2="487.49" y2="296.816" stroke="#000" stroke-width="1.4"/>
<line x1="478.99" y1="302.272" x2="487.49" y2="302.272" stroke="#000" stroke-width="1.4"/>
<line x1="503.96999999999997" y1="298.0436" x2="503.96999999999997" y2="303.4996" stroke="#000" stroke-width="1.4"/>
<line x1="499.71999999999997" y1="298.0436" x2="508.21999999999997" y2="298.0436" stroke="#000" stroke-width="1.4"/>
<line x1="499.71999999999997" y1="303.4996" x2="508.21999999999997" y2="303.4996" stroke="#000" stroke-width="1.4"/>
<line x1="338.13" y1="161.2344" x2="338.13" y2="183.05839999999998" stroke="#000" stroke-width="1.4"/>
<line x1="333.88" y1="161.2344" x2="342.38" y2="161.2344" stroke="#000" stroke-width="1.4"/>
<line x1="333.88" y1="183.05839999999998" x2="342.38" y2="183.05839999999998" stroke="#000" stroke-width="1.4"/>
<line x1="358.85999999999996" y1="190.6968" x2="358.85999999999996" y2="209.7928" stroke="#000" stroke-width="1.4"/>
<line x1="354.60999999999996" y1="190.6968" x2="363.10999999999996" y2="190.6968" stroke="#000" stroke-width="1.4"/>
<line x1="354.60999999999996" y1="209.7928" x2="363.10999999999996" y2="209.7928" stroke="#000" stroke-width="1.4"/>
<line x1="379.59" y1="212.7936" x2="379.59" y2="222.3416" stroke="#000" stroke-width="1.4"/>
<line x1="375.34" y1="212.7936" x2="383.84" y2="212.7936" stroke="#000" stroke-width="1.4"/>
<line x1="375.34" y1="222.3416" x2="383.84" y2="222.3416" stroke="#000" stroke-width="1.4"/>
<line x1="400.32" y1="224.79680000000002" x2="400.32" y2="232.9808" stroke="#000" stroke-width="1.4"/>
<line x1="396.07" y1="224.79680000000002" x2="404.57" y2="224.79680000000002" stroke="#000" stroke-width="1.4"/>
<line x1="396.07" y1="232.9808" x2="404.57" y2="232.9808" stroke="#000" stroke-width="1.4"/>
<line x1="421.04999999999995" y1="246.8936" x2="421.04999999999995" y2="255.0776" stroke="#000" stroke-width="1.4"/>
<line x1="416.79999999999995" y1="246.8936" x2="425.29999999999995" y2="246.8936" stroke="#000" stroke-width="1.4"/>
<line x1="416.79999999999995" y1="255.0776" x2="425.29999999999995" y2="255.0776" stroke="#000" stroke-width="1.4"/>
<line x1="441.78" y1="258.624" x2="441.78" y2="266.808" stroke="#000" stroke-width="1.4"/>
<line x1="437.53" y1="258.624" x2="446.03" y2="258.624" stroke="#000" stroke-width="1.4"/>
<line x1="437.53" y1="266.808" x2="446.03" y2="266.808" stroke="#000" stroke-width="1.4"/>
<line x1="462.51" y1="267.8992" x2="462.51" y2="276.0832" stroke="#000" stroke-width="1.4"/>
<line x1="458.26" y1="267.8992" x2="466.76" y2="267.8992" stroke="#000" stroke-width="1.4"/>
<line x1="458.26" y1="276.0832" x2="466.76" y2="276.0832" stroke="#000" stroke-width="1.4"/>
<line x1="483.24" y1="280.8572" x2="483.24" y2="289.0412" stroke="#000" stroke-width="1.4"/>
<line x1="478.99" y1="280.8572" x2="487.49" y2="280.8572" stroke="#000" stroke-width="1.4"/>
<line x1="478.99" y1="289.0412" x2="487.49" y2="289.0412" stroke="#000" stroke-width="1.4"/>
<line x1="503.96999999999997" y1="286.4496" x2="503.96999999999997" y2="294.6336" stroke="#000" stroke-width="1.4"/>
<line x1="499.71999999999997" y1="286.4496" x2="508.21999999999997" y2="286.4496" stroke="#000" stroke-width="1.4"/>
<line x1="499.71999999999997" y1="294.6336" x2="508.21999999999997" y2="294.6336" stroke="#000" stroke-width="1.4"/>
<line x1="338.13" y1="175.9656" x2="338.13" y2="184.1496" stroke="#000" stroke-width="1.4"/>
<line x1="333.88" y1="175.9656" x2="342.38" y2="175.9656" stroke="#000" stroke-width="1.4"/>
<line x1="333.88" y1="184.1496" x2="342.38" y2="184.1496" stroke="#000" stroke-width="1.4"/>
<line x1="358.85999999999996" y1="200.79039999999998" x2="358.85999999999996" y2="225.3424" stroke="#000" stroke-width="1.4"/>
<line x1="354.60999999999996" y1="200.79039999999998" x2="363.10999999999996" y2="200.79039999999998" stroke="#000" stroke-width="1.4"/>
<line x1="354.60999999999996" y1="225.3424" x2="363.10999999999996" y2="225.3424" stroke="#000" stroke-width="1.4"/>
<line x1="379.59" y1="220.9776" x2="379.59" y2="229.1616" stroke="#000" stroke-width="1.4"/>
<line x1="375.34" y1="220.9776" x2="383.84" y2="220.9776" stroke="#000" stroke-width="1.4"/>
<line x1="375.34" y1="229.1616" x2="383.84" y2="229.1616" stroke="#000" stroke-width="1.4"/>
<line x1="400.32" y1="226.4336" x2="400.32" y2="234.61759999999998" stroke="#000" stroke-width="1.4"/>
<line x1="396.07" y1="226.4336" x2="404.57" y2="226.4336" stroke="#000" stroke-width="1.4"/>
<line x1="396.07" y1="234.61759999999998" x2="404.57" y2="234.61759999999998" stroke="#000" stroke-width="1.4"/>
<line x1="421.04999999999995" y1="243.0744" x2="421.04999999999995" y2="259.4424" stroke="#000" stroke-width="1.4"/>
<line x1="416.79999999999995" y1="243.0744" x2="425.29999999999995" y2="243.0744" stroke="#000" stroke-width="1.4"/>
<line x1="416.79999999999995" y1="259.4424" x2="425.29999999999995" y2="259.4424" stroke="#000" stroke-width="1.4"/>
<line x1="441.78" y1="258.3512" x2="441.78" y2="266.5352" stroke="#000" stroke-width="1.4"/>
<line x1="437.53" y1="258.3512" x2="446.03" y2="258.3512" stroke="#000" stroke-width="1.4"/>
<line x1="437.53" y1="266.5352" x2="446.03" y2="266.5352" stroke="#000" stroke-width="1.4"/>
<line x1="462.51" y1="264.6256" x2="462.51" y2="272.8096" stroke="#000" stroke-width="1.4"/>
<line x1="458.26" y1="264.6256" x2="466.76" y2="264.6256" stroke="#000" stroke-width="1.4"/>
<line x1="458.26" y1="272.8096" x2="466.76" y2="272.8096" stroke="#000" stroke-width="1.4"/>
<line x1="483.24" y1="271.7184" x2="483.24" y2="279.9024" stroke="#000" stroke-width="1.4"/>
<line x1="478.99" y1="271.7184" x2="487.49" y2="271.7184" stroke="#000" stroke-width="1.4"/>
<line x1="478.99" y1="279.9024" x2="487.49" y2="279.9024" stroke="#000" stroke-width="1.4"/>
<line x1="503.96999999999997" y1="278.402" x2="503.96999999999997" y2="286.586" stroke="#000" stroke-width="1.4"/>
<line x1="499.71999999999997" y1="278.402" x2="508.21999999999997" y2="278.402" stroke="#000" stroke-width="1.4"/>
<line x1="499.71999999999997" y1="286.586" x2="508.21999999999997" y2="286.586" stroke="#000" stroke-width="1.4"/>
<circle cx="317.4" cy="168.6" r="4.55" fill="#000"/>
<circle cx="338.13" cy="203.382" r="4.55" fill="#000"/>
<circle cx="358.85999999999996" cy="265.9896" r="4.55" fill="#000"/>
<circle cx="379.59" cy="285.3584" r="4.55" fill="#000"/>
<circle cx="400.32" cy="295.0428" r="4.55" fill="#000"/>
<circle cx="421.04999999999995" cy="299.9532" r="4.55" fill="#000"/>
<circle cx="441.78" cy="302.5448" r="4.55" fill="#000"/>
<circle cx="462.51" cy="303.0904" r="4.55" fill="#000"/>
<circle cx="483.24" cy="304.0452" r="4.55" fill="#000"/>
<circle cx="503.96999999999997" cy="304.318" r="4.55" fill="#000"/>
<rect x="313.59999999999997" y="164.79999999999998" width="7.6" height="7.6" fill="#fff" stroke="#000" stroke-width="1.5"/>
<rect x="334.33" y="185.80559999999997" width="7.6" height="7.6" fill="#fff" stroke="#000" stroke-width="1.5"/>
<rect x="355.05999999999995" y="216.08639999999997" width="7.6" height="7.6" fill="#fff" stroke="#000" stroke-width="1.5"/>
<rect x="375.78999999999996" y="229.0444" width="7.6" height="7.6" fill="#fff" stroke="#000" stroke-width="1.5"/>
<rect x="396.52" y="238.18319999999997" width="7.6" height="7.6" fill="#fff" stroke="#000" stroke-width="1.5"/>
<rect x="417.24999999999994" y="257.96119999999996" width="7.6" height="7.6" fill="#fff" stroke="#000" stroke-width="1.5"/>
<rect x="437.97999999999996" y="276.23879999999997" width="7.6" height="7.6" fill="#fff" stroke="#000" stroke-width="1.5"/>
<rect x="458.71" y="285.514" width="7.6" height="7.6" fill="#fff" stroke="#000" stroke-width="1.5"/>
<rect x="479.44" y="295.74399999999997" width="7.6" height="7.6" fill="#fff" stroke="#000" stroke-width="1.5"/>
<rect x="500.16999999999996" y="296.97159999999997" width="7.6" height="7.6" fill="#fff" stroke="#000" stroke-width="1.5"/>
<circle cx="317.4" cy="168.6" r="3.9499999999999997" fill="#fff" stroke="#000" stroke-width="1.5"/>
<circle cx="338.13" cy="172.14639999999997" r="3.9499999999999997" fill="#fff" stroke="#000" stroke-width="1.5"/>
<circle cx="358.85999999999996" cy="200.2448" r="3.9499999999999997" fill="#fff" stroke="#000" stroke-width="1.5"/>
<circle cx="379.59" cy="217.5676" r="3.9499999999999997" fill="#fff" stroke="#000" stroke-width="1.5"/>
<circle cx="400.32" cy="228.8888" r="3.9499999999999997" fill="#fff" stroke="#000" stroke-width="1.5"/>
<circle cx="421.04999999999995" cy="250.98559999999998" r="3.9499999999999997" fill="#fff" stroke="#000" stroke-width="1.5"/>
<circle cx="441.78" cy="262.716" r="3.9499999999999997" fill="#fff" stroke="#000" stroke-width="1.5"/>
<circle cx="462.51" cy="271.9912" r="3.9499999999999997" fill="#fff" stroke="#000" stroke-width="1.5"/>
<circle cx="483.24" cy="284.9492" r="3.9499999999999997" fill="#fff" stroke="#000" stroke-width="1.5"/>
<circle cx="503.96999999999997" cy="290.5416" r="3.9499999999999997" fill="#fff" stroke="#000" stroke-width="1.5"/>
<rect x="312.84999999999997" y="164.04999999999998" width="9.1" height="9.1" fill="#000"/>
<rect x="333.58" y="175.50759999999997" width="9.1" height="9.1" fill="#000"/>
<rect x="354.30999999999995" y="208.51639999999998" width="9.1" height="9.1" fill="#000"/>
<rect x="375.03999999999996" y="220.51959999999997" width="9.1" height="9.1" fill="#000"/>
<rect x="395.77" y="225.9756" width="9.1" height="9.1" fill="#000"/>
<rect x="416.49999999999994" y="246.70839999999998" width="9.1" height="9.1" fill="#000"/>
<rect x="437.22999999999996" y="257.8932" width="9.1" height="9.1" fill="#000"/>
<rect x="457.96" y="264.1676" width="9.1" height="9.1" fill="#000"/>
<rect x="478.69" y="271.2604" width="9.1" height="9.1" fill="#000"/>
<rect x="499.41999999999996" y="277.944" width="9.1" height="9.1" fill="#000"/>
<rect x="306.6" y="153.7" width="208.0" height="151.3" fill="none" stroke="#000" stroke-width="1.55" stroke-linejoin="round"/>
<line x1="302.70000000000005" y1="305.0" x2="306.6" y2="305.0" stroke="#000" stroke-width="1.5"/>
<text x="299.8" y="308.4" font-size="9.2" text-anchor="end" font-weight="bold" fill="#000">0</text>
<line x1="302.70000000000005" y1="236.8" x2="306.6" y2="236.8" stroke="#000" stroke-width="1.5"/>
<text x="299.8" y="240.20000000000002" font-size="9.2" text-anchor="end" font-weight="bold" fill="#000">50</text>
<line x1="302.70000000000005" y1="168.6" x2="306.6" y2="168.6" stroke="#000" stroke-width="1.5"/>
<text x="299.8" y="172.0" font-size="9.2" text-anchor="end" font-weight="bold" fill="#000">100</text>
<line x1="317.4" y1="305.0" x2="317.4" y2="308.6" stroke="#000" stroke-width="1.5"/>
<text x="317.4" y="319.4" font-size="9.2" text-anchor="middle" font-weight="bold" fill="#000">6</text>
<line x1="338.13" y1="305.0" x2="338.13" y2="308.6" stroke="#000" stroke-width="1.5"/>
<text x="338.13" y="319.4" font-size="9.2" text-anchor="middle" font-weight="bold" fill="#000">8</text>
<line x1="358.85999999999996" y1="305.0" x2="358.85999999999996" y2="308.6" stroke="#000" stroke-width="1.5"/>
<text x="358.85999999999996" y="319.4" font-size="9.2" text-anchor="middle" font-weight="bold" fill="#000">12</text>
<line x1="379.59" y1="305.0" x2="379.59" y2="308.6" stroke="#000" stroke-width="1.5"/>
<text x="379.59" y="319.4" font-size="9.2" text-anchor="middle" font-weight="bold" fill="#000">15</text>
<line x1="400.32" y1="305.0" x2="400.32" y2="308.6" stroke="#000" stroke-width="1.5"/>
<text x="400.32" y="319.4" font-size="9.2" text-anchor="middle" font-weight="bold" fill="#000">18</text>
<line x1="421.04999999999995" y1="305.0" x2="421.04999999999995" y2="308.6" stroke="#000" stroke-width="1.5"/>
<text x="421.04999999999995" y="319.4" font-size="9.2" text-anchor="middle" font-weight="bold" fill="#000">21</text>
<line x1="441.78" y1="305.0" x2="441.78" y2="308.6" stroke="#000" stroke-width="1.5"/>
<text x="441.78" y="319.4" font-size="9.2" text-anchor="middle" font-weight="bold" fill="#000">25</text>
<line x1="462.51" y1="305.0" x2="462.51" y2="308.6" stroke="#000" stroke-width="1.5"/>
<text x="462.51" y="319.4" font-size="9.2" text-anchor="middle" font-weight="bold" fill="#000">28</text>
<line x1="483.24" y1="305.0" x2="483.24" y2="308.6" stroke="#000" stroke-width="1.5"/>
<text x="483.24" y="319.4" font-size="9.2" text-anchor="middle" font-weight="bold" fill="#000">32</text>
<line x1="503.96999999999997" y1="305.0" x2="503.96999999999997" y2="308.6" stroke="#000" stroke-width="1.5"/>
<text x="503.96999999999997" y="319.4" font-size="9.2" text-anchor="middle" font-weight="bold" fill="#000">35</text>
<text x="405.1" y="337.0" font-size="10.8" text-anchor="middle" font-weight="bold" fill="#000">Time after transfer (days)</text>
<text x="285.6" y="235.8" font-size="10.9" text-anchor="middle" font-weight="bold" fill="#000" transform="rotate(-90 285.6 235.8)">% of biotinylated cells</text>
<line x1="421.3" y1="162.1" x2="435.3" y2="162.1" stroke="#000" stroke-width="1.5"/>
<circle cx="428.3" cy="162.1" r="3.6" fill="#fff" stroke="#000" stroke-width="1.5"/>
<text x="437.9" y="165.6" font-size="9.65" text-anchor="start" font-weight="bold" fill="#000">WT</text>
<line x1="421.3" y1="175.6" x2="435.3" y2="175.6" stroke="#000" stroke-width="1.5"/>
<circle cx="428.3" cy="175.6" r="4.2" fill="#000"/>
<text x="437.9" y="179.1" font-size="9.65" text-anchor="start" font-weight="bold" fill="#000">CD70TG</text>
<line x1="421.3" y1="189.0" x2="435.3" y2="189.0" stroke="#000" stroke-width="1.5"/>
<rect x="424.85" y="185.55" width="6.9" height="6.9" fill="#fff" stroke="#000" stroke-width="1.5"/>
<text x="437.9" y="192.5" font-size="9.65" text-anchor="start" font-weight="bold" fill="#000">IFNγ-/-</text>
<line x1="421.3" y1="202.5" x2="435.3" y2="202.5" stroke="#000" stroke-width="1.5"/>
<rect x="424.1" y="198.3" width="8.4" height="8.4" fill="#000"/>
<text x="437.9" y="206.0" font-size="9.65" text-anchor="start" font-weight="bold" fill="#000">CD70TG*IFNγ-/-</text>
<line x1="246.65" y1="437.73066666666665" x2="246.65" y2="443.5106666666667" stroke="#000" stroke-width="1.5"/>
<line x1="240.05" y1="437.73066666666665" x2="253.25" y2="437.73066666666665" stroke="#000" stroke-width="1.6"/>
<rect x="234.3" y="444.3106666666667" width="24.70000000000001" height="38.88933333333331" fill="url(#barfill)" stroke="#000" stroke-width="1.6"/>
<line x1="286.8" y1="389.3713333333334" x2="286.8" y2="396.11466666666666" stroke="#000" stroke-width="1.5"/>
<line x1="280.2" y1="389.3713333333334" x2="293.40000000000003" y2="389.3713333333334" stroke="#000" stroke-width="1.6"/>
<rect x="274.3" y="396.9146666666667" width="25.00000000000002" height="86.28533333333333" fill="url(#barfill)" stroke="#000" stroke-width="1.6"/>
<line x1="326.8" y1="441.584" x2="326.8" y2="446.20799999999997" stroke="#000" stroke-width="1.5"/>
<line x1="320.2" y1="441.584" x2="333.40000000000003" y2="441.584" stroke="#000" stroke-width="1.6"/>
<rect x="314.3" y="447.008" width="25.00000000000002" height="36.19200000000002" fill="url(#barfill)" stroke="#000" stroke-width="1.6"/>
<line x1="366.3" y1="437.92333333333335" x2="366.3" y2="443.318" stroke="#000" stroke-width="1.5"/>
<line x1="359.7" y1="437.92333333333335" x2="372.90000000000003" y2="437.92333333333335" stroke="#000" stroke-width="1.6"/>
<rect x="353.8" y="444.118" width="25.00000000000002" height="39.08200000000001" fill="url(#barfill)" stroke="#000" stroke-width="1.6"/>
<text x="286.6" y="384.5" font-size="9.5" text-anchor="middle" font-weight="bold" fill="#000">*</text>
<path d="M226.3,483.2 L226.3,367.6 L385.6,367.6 L385.6,483.2 Z" fill="none" stroke="#000" stroke-width="1.7"/>
<line x1="222.70000000000002" y1="483.2" x2="226.3" y2="483.2" stroke="#000" stroke-width="1.5"/>
<text x="220.9" y="486.2" font-size="8.4" text-anchor="end" font-weight="bold" fill="#000">0</text>
<line x1="222.70000000000002" y1="444.6666666666667" x2="226.3" y2="444.6666666666667" stroke="#000" stroke-width="1.5"/>
<text x="220.9" y="447.6666666666667" font-size="8.4" text-anchor="end" font-weight="bold" fill="#000">1000</text>
<line x1="222.70000000000002" y1="406.1333333333333" x2="226.3" y2="406.1333333333333" stroke="#000" stroke-width="1.5"/>
<text x="220.9" y="409.1333333333333" font-size="8.4" text-anchor="end" font-weight="bold" fill="#000">2000</text>
<line x1="222.70000000000002" y1="367.6" x2="226.3" y2="367.6" stroke="#000" stroke-width="1.5"/>
<text x="220.9" y="370.6" font-size="8.4" text-anchor="end" font-weight="bold" fill="#000">3000</text>
<line x1="246.65" y1="483.2" x2="246.65" y2="486.8" stroke="#000" stroke-width="1.5"/>
<line x1="286.8" y1="483.2" x2="286.8" y2="486.8" stroke="#000" stroke-width="1.5"/>
<line x1="326.8" y1="483.2" x2="326.8" y2="486.8" stroke="#000" stroke-width="1.5"/>
<line x1="366.3" y1="483.2" x2="366.3" y2="486.8" stroke="#000" stroke-width="1.5"/>
<text x="246.65" y="498.6" font-size="9.2" text-anchor="middle" font-weight="bold" fill="#000">WT</text>
<text x="286.8" y="498.6" font-size="9.2" text-anchor="middle" font-weight="bold" fill="#000">CD70TG</text>
<text x="326.8" y="498.6" font-size="9.2" text-anchor="middle" font-weight="bold" fill="#000">IFNγ-/-</text>
<text x="366.3" y="498.6" font-size="9.2" text-anchor="middle" font-weight="bold" fill="#000">CD70TG*</text>
<text x="368.8" y="508.6" font-size="9.2" text-anchor="middle" font-weight="bold" fill="#000">IFNγ-/-</text>
<text x="198.4" y="424.0" font-size="9.75" text-anchor="middle" font-weight="bold" fill="#000" transform="rotate(-90 198.4 424.0)">GeoMFI MHCII</text>
<line x1="247.89999999999998" y1="571.424" x2="247.89999999999998" y2="572.0" stroke="#000" stroke-width="1.5"/>
<line x1="241.29999999999998" y1="571.424" x2="254.49999999999997" y2="571.424" stroke="#000" stroke-width="1.6"/>
<rect x="236.20000000000002" y="572.8" width="23.39999999999997" height="63.99999999999996" fill="url(#barfill)" stroke="#000" stroke-width="1.6"/>
<line x1="287.25" y1="545.504" x2="287.25" y2="547.52" stroke="#000" stroke-width="1.5"/>
<line x1="280.65" y1="545.504" x2="293.85" y2="545.504" stroke="#000" stroke-width="1.6"/>
<rect x="274.6" y="548.3199999999999" width="25.299999999999976" height="88.47999999999998" fill="url(#barfill)" stroke="#000" stroke-width="1.6"/>
<line x1="326.95000000000005" y1="579.2" x2="326.95000000000005" y2="581.216" stroke="#000" stroke-width="1.5"/>
<line x1="320.35" y1="579.2" x2="333.55000000000007" y2="579.2" stroke="#000" stroke-width="1.6"/>
<rect x="314.1" y="582.016" width="25.70000000000001" height="54.78399999999995" fill="url(#barfill)" stroke="#000" stroke-width="1.6"/>
<line x1="367.35" y1="591.008" x2="367.35" y2="593.024" stroke="#000" stroke-width="1.5"/>
<line x1="360.75" y1="591.008" x2="373.95000000000005" y2="591.008" stroke="#000" stroke-width="1.6"/>
<rect x="354.5" y="593.824" width="25.70000000000001" height="42.97599999999996" fill="url(#barfill)" stroke="#000" stroke-width="1.6"/>
<text x="287.05" y="538.5" font-size="9.5" text-anchor="middle" font-weight="bold" fill="#000">*</text>
<text x="367.15000000000003" y="585.0" font-size="9.5" text-anchor="middle" font-weight="bold" fill="#000">*</text>
<path d="M227.2,636.8 L227.2,521.6 L387.2,521.6 L387.2,636.8 Z" fill="none" stroke="#000" stroke-width="1.7"/>
<line x1="223.6" y1="636.8" x2="227.2" y2="636.8" stroke="#000" stroke-width="1.5"/>
<text x="221.79999999999998" y="639.8" font-size="8.4" text-anchor="end" font-weight="bold" fill="#000">0</text>
<line x1="223.6" y1="608.0" x2="227.2" y2="608.0" stroke="#000" stroke-width="1.5"/>
<text x="221.79999999999998" y="611.0" font-size="8.4" text-anchor="end" font-weight="bold" fill="#000">1</text>
<line x1="223.6" y1="579.2" x2="227.2" y2="579.2" stroke="#000" stroke-width="1.5"/>
<text x="221.79999999999998" y="582.2" font-size="8.4" text-anchor="end" font-weight="bold" fill="#000">2</text>
<line x1="223.6" y1="550.4" x2="227.2" y2="550.4" stroke="#000" stroke-width="1.5"/>
<text x="221.79999999999998" y="553.4" font-size="8.4" text-anchor="end" font-weight="bold" fill="#000">3</text>
<line x1="223.6" y1="521.6" x2="227.2" y2="521.6" stroke="#000" stroke-width="1.5"/>
<text x="221.79999999999998" y="524.6" font-size="8.4" text-anchor="end" font-weight="bold" fill="#000">4</text>
<line x1="247.89999999999998" y1="636.8" x2="247.89999999999998" y2="640.4" stroke="#000" stroke-width="1.5"/>
<line x1="287.25" y1="636.8" x2="287.25" y2="640.4" stroke="#000" stroke-width="1.5"/>
<line x1="326.95000000000005" y1="636.8" x2="326.95000000000005" y2="640.4" stroke="#000" stroke-width="1.5"/>
<line x1="367.35" y1="636.8" x2="367.35" y2="640.4" stroke="#000" stroke-width="1.5"/>
<text x="247.89999999999998" y="653.6" font-size="9.2" text-anchor="middle" font-weight="bold" fill="#000">WT</text>
<text x="287.25" y="653.6" font-size="9.2" text-anchor="middle" font-weight="bold" fill="#000">CD70TG</text>
<text x="326.95000000000005" y="653.6" font-size="9.2" text-anchor="middle" font-weight="bold" fill="#000">IFNγ-/-</text>
<text x="367.35" y="653.6" font-size="9.2" text-anchor="middle" font-weight="bold" fill="#000">CD70TG*</text>
<text x="369.85" y="663.6" font-size="9.2" text-anchor="middle" font-weight="bold" fill="#000">IFNγ-/-</text>
<text x="195.6" y="584.0" font-size="9.75" text-anchor="middle" font-weight="bold" fill="#000" transform="rotate(-90 195.6 584.0)">Uptake of CFSE+ RBCs</text>
<text x="206.4" y="583.5" font-size="9.75" text-anchor="middle" font-weight="bold" fill="#000" transform="rotate(-90 206.4 583.5)">(Ratio MFI / background)</text>
<text x="4.8" y="375.6" font-size="18" text-anchor="start" font-weight="bold" fill="#000">D</text>
<text x="3.3" y="533.8" font-size="18" text-anchor="start" font-weight="bold" fill="#000">E</text>
<text x="41.4" y="385.5" font-size="11.0" text-anchor="middle" font-weight="bold" fill="#000" transform="rotate(-90 41.4 385.5)">F4/80</text>
<line x1="36.0" y1="481.5" x2="36.0" y2="412.5" stroke="#000" stroke-width="1.5"/>
<path d="M36.0,406.0 L32.7,413.0 L39.3,413.0 Z" fill="#000" stroke="none" stroke-width="1.0"/>
<line x1="45.9" y1="491.5" x2="105.7" y2="491.5" stroke="#000" stroke-width="1.5"/>
<path d="M112.2,491.5 L105.2,488.6 L105.2,494.4 Z" fill="#000" stroke="none" stroke-width="1.0"/>
<text x="121.3" y="495.6" font-size="10.8" text-anchor="start" font-weight="bold" fill="#000">CD11b</text>
<text x="40.8" y="543.4" font-size="11.0" text-anchor="middle" font-weight="bold" fill="#000" transform="rotate(-90 40.8 543.4)">F4/80</text>
<line x1="34.6" y1="637.5" x2="34.6" y2="569.1" stroke="#000" stroke-width="1.5"/>
<path d="M34.6,562.6 L31.3,569.6 L37.9,569.6 Z" fill="#000" stroke="none" stroke-width="1.0"/>
<text x="102.9" y="653.4" font-size="10.8" text-anchor="middle" font-weight="bold" fill="#000">Empty FL3 Channel</text>
<line x1="69.4" y1="18" x2="69.4" y2="114" stroke="#9c9c9c" stroke-width="1.1"/>
<line x1="69.4" y1="74.3" x2="131" y2="74.3" stroke="#9c9c9c" stroke-width="1.1"/>
<g clip-path="url(#clA0)">
<g filter="url(#spH)" opacity="1"><path d="M76.3,31.5 C77.5,28.5 86,26.5 96.5,24.6 C98.2,29 96.5,38 93.2,47.5 L83.3,47.5 C80,42 75.8,36 76.3,31.5 Z"/><path d="M84.80,79.00 C87.05,78.20 91.55,78.20 93.80,79.00 C95.62,83.44 97.20,90.10 97.20,97.50 C97.20,104.90 96.50,112.30 96.50,116.00 L82.10,116.00 C82.10,112.30 81.40,104.90 81.40,97.50 C81.40,90.10 82.98,83.44 84.80,79.00 Z"/><path d="M82.5,45 L95,45 C94,55 95.5,68 95.3,82 L82.8,82 C83.5,68 82,56 82.5,45 Z" opacity="0.55"/></g>
<g filter="url(#spA)"><ellipse cx="87.5" cy="36" rx="18" ry="15" fill="url(#gSoft)" opacity="0.25"/><ellipse cx="89" cy="62" rx="13" ry="24" fill="url(#gSoft)" opacity="0.3"/><ellipse cx="89.3" cy="98" rx="14" ry="22" fill="url(#gSoft)" opacity="0.25"/><path d="M76.3,31.5 C77.5,28.5 86,26.5 96.5,24.6 C98.2,29 96.5,38 93.2,47.5 L83.3,47.5 C80,42 75.8,36 76.3,31.5 Z"/><path d="M84.80,79.00 C87.05,78.20 91.55,78.20 93.80,79.00 C95.62,83.44 97.20,90.10 97.20,97.50 C97.20,104.90 96.50,112.30 96.50,116.00 L82.10,116.00 C82.10,112.30 81.40,104.90 81.40,97.50 C81.40,90.10 82.98,83.44 84.80,79.00 Z"/><path d="M82.5,45 L95,45 C94,55 95.5,68 95.3,82 L82.8,82 C83.5,68 82,56 82.5,45 Z" opacity="0.55"/></g>
<g filter="url(#soft)"><path d="M79.3,32.6 C81,30.6 87,29.3 93.6,28.3 C93.6,33 91.8,39 89.2,44.2 L85,44.2 C82,40.5 78.8,36.3 79.3,32.6 Z" fill="url(#gCore)"/><path d="M87.60,83.60 C88.70,82.80 90.90,82.80 92.00,83.60 C93.64,86.95 94.60,91.97 94.60,97.55 C94.60,103.13 94.00,108.71 94.00,111.50 L85.60,111.50 C85.60,108.71 85.00,103.13 85.00,97.55 C85.00,91.97 85.96,86.95 87.60,83.60 Z" fill="url(#gCoreB)"/></g>
<ellipse cx="86.8" cy="35.1" rx="1.7" ry="1.3" fill="#2a2a2a" filter="url(#dotb)"/>
</g>
<rect x="41.4" y="18" width="89.6" height="96" fill="none" stroke="#9c9c9c" stroke-width="1.1"/>
<line x1="165.2" y1="18" x2="165.2" y2="114" stroke="#9c9c9c" stroke-width="1.1"/>
<line x1="165.2" y1="74.3" x2="226.4" y2="74.3" stroke="#9c9c9c" stroke-width="1.1"/>
<g clip-path="url(#clA1)">
<g filter="url(#spH)" opacity="1"><ellipse cx="182.9" cy="34.3" rx="9.8" ry="9.6"/><path d="M179.30,77.50 C181.80,76.70 186.80,76.70 189.30,77.50 C191.74,82.12 193.60,89.05 193.60,96.75 C193.60,104.45 192.80,112.15 192.80,116.00 L175.80,116.00 C175.80,112.15 175.00,104.45 175.00,96.75 C175.00,89.05 176.86,82.12 179.30,77.50 Z"/><path d="M177.8,42 L190.5,42 C189.5,55 191,68 190.8,80 L178,80 C178.5,68 177.5,55 177.8,42 Z" opacity="0.5"/></g>
<g filter="url(#spA)"><ellipse cx="183" cy="34" rx="17" ry="16" fill="url(#gSoft)" opacity="0.25"/><ellipse cx="184" cy="62" rx="13" ry="22" fill="url(#gSoft)" opacity="0.3"/><ellipse cx="184.3" cy="97" rx="16" ry="23" fill="url(#gSoft)" opacity="0.25"/><ellipse cx="182.9" cy="34.3" rx="9.8" ry="9.6"/><path d="M179.30,77.50 C181.80,76.70 186.80,76.70 189.30,77.50 C191.74,82.12 193.60,89.05 193.60,96.75 C193.60,104.45 192.80,112.15 192.80,116.00 L175.80,116.00 C175.80,112.15 175.00,104.45 175.00,96.75 C175.00,89.05 176.86,82.12 179.30,77.50 Z"/><path d="M177.8,42 L190.5,42 C189.5,55 191,68 190.8,80 L178,80 C178.5,68 177.5,55 177.8,42 Z" opacity="0.5"/></g>
<g filter="url(#soft)"><circle cx="182.8" cy="34.2" r="6.4" fill="url(#gCoreB)"/><path d="M182.10,82.30 C183.40,81.50 186.00,81.50 187.30,82.30 C188.86,85.86 189.90,91.21 189.90,97.15 C189.90,103.09 189.30,109.03 189.30,112.00 L180.10,112.00 C180.10,109.03 179.50,103.09 179.50,97.15 C179.50,91.21 180.54,85.86 182.10,82.30 Z" fill="url(#gCoreB)"/></g>

</g>
<rect x="137.4" y="18" width="89.0" height="96" fill="none" stroke="#9c9c9c" stroke-width="1.1"/>
<line x1="261.4" y1="18" x2="261.4" y2="114" stroke="#9c9c9c" stroke-width="1.1"/>
<line x1="261.4" y1="74.3" x2="321.9" y2="74.3" stroke="#9c9c9c" stroke-width="1.1"/>
<g clip-path="url(#clA2)">
<g filter="url(#spH)" opacity="1"><path d="M265.7,33 C267,30 276,27.5 283.5,25.8 L289,27 L285.5,30.5 C284,36 282,42 280.5,46.5 L271.7,46.5 C268.5,42 265.2,37 265.7,33 Z"/><path d="M275.10,79.20 C277.35,78.40 281.85,78.40 284.10,79.20 C286.08,83.62 287.70,90.24 287.70,97.60 C287.70,104.96 287.10,112.32 287.10,116.00 L272.10,116.00 C272.10,112.32 271.50,104.96 271.50,97.60 C271.50,90.24 273.12,83.62 275.10,79.20 Z"/><path d="M271.3,45 L284.8,45 C283.8,58 285.3,70 285.1,82 L271.8,82 C272.3,70 270.8,58 271.3,45 Z" opacity="0.55"/></g>
<g filter="url(#spA)"><ellipse cx="277" cy="36" rx="18" ry="15" fill="url(#gSoft)" opacity="0.25"/><ellipse cx="278" cy="63" rx="13" ry="22" fill="url(#gSoft)" opacity="0.3"/><ellipse cx="279.6" cy="98" rx="14" ry="21" fill="url(#gSoft)" opacity="0.25"/><path d="M265.7,33 C267,30 276,27.5 283.5,25.8 L289,27 L285.5,30.5 C284,36 282,42 280.5,46.5 L271.7,46.5 C268.5,42 265.2,37 265.7,33 Z"/><path d="M275.10,79.20 C277.35,78.40 281.85,78.40 284.10,79.20 C286.08,83.62 287.70,90.24 287.70,97.60 C287.70,104.96 287.10,112.32 287.10,116.00 L272.10,116.00 C272.10,112.32 271.50,104.96 271.50,97.60 C271.50,90.24 273.12,83.62 275.10,79.20 Z"/><path d="M271.3,45 L284.8,45 C283.8,58 285.3,70 285.1,82 L271.8,82 C272.3,70 270.8,58 271.3,45 Z" opacity="0.55"/></g>
<g filter="url(#soft)"><path d="M268.7,33.8 C270.5,31.6 276,30 282.2,29.2 C282,34 280.5,39 278.6,43.2 L273.6,43.2 C271,40 268.2,36.8 268.7,33.8 Z" fill="url(#gCore)"/><path d="M277.10,84.00 C278.20,83.20 280.40,83.20 281.50,84.00 C283.06,87.22 284.00,92.04 284.00,97.40 C284.00,102.76 283.50,108.12 283.50,110.80 L275.10,110.80 C275.10,108.12 274.60,102.76 274.60,97.40 C274.60,92.04 275.54,87.22 277.10,84.00 Z" fill="url(#gCoreB)"/></g>
<ellipse cx="275.5" cy="35.3" rx="1.7" ry="1.3" fill="#2a2a2a" filter="url(#dotb)"/>
</g>
<rect x="233.4" y="18" width="88.49999999999997" height="96" fill="none" stroke="#9c9c9c" stroke-width="1.1"/>
<line x1="356.9" y1="18" x2="356.9" y2="114" stroke="#9c9c9c" stroke-width="1.1"/>
<line x1="356.9" y1="74.3" x2="418.5" y2="74.3" stroke="#9c9c9c" stroke-width="1.1"/>
<g clip-path="url(#clA3)">
<g filter="url(#spH)" opacity="1"><path d="M362.7,36.5 C364,33 372,31 381.5,30 L383.5,33 C383,40 380.5,47 378.8,54 L368.7,54 C366,48 362.2,41 362.7,36.5 Z"/><path d="M371.00,80.80 C373.40,80.00 378.20,80.00 380.60,80.80 C382.60,85.02 384.30,91.36 384.30,98.40 C384.30,105.44 383.60,112.48 383.60,116.00 L368.00,116.00 C368.00,112.48 367.30,105.44 367.30,98.40 C367.30,91.36 369.00,85.02 371.00,80.80 Z"/><path d="M367.8,52 L380.8,52 C379.8,62 381.3,74 381.1,85 L368.1,85 C368.8,74 367.3,62 367.8,52 Z" opacity="0.55"/></g>
<g filter="url(#spA)"><ellipse cx="374" cy="40" rx="19" ry="16" fill="url(#gSoft)" opacity="0.25"/><ellipse cx="388.5" cy="36.5" rx="10" ry="4" fill="url(#gSoft)" opacity="0.55" transform="rotate(25 388.5 36.5)"/><ellipse cx="374" cy="68" rx="13" ry="22" fill="url(#gSoft)" opacity="0.3"/><ellipse cx="375.8" cy="99" rx="15" ry="20" fill="url(#gSoft)" opacity="0.25"/><path d="M362.7,36.5 C364,33 372,31 381.5,30 L383.5,33 C383,40 380.5,47 378.8,54 L368.7,54 C366,48 362.2,41 362.7,36.5 Z"/><path d="M371.00,80.80 C373.40,80.00 378.20,80.00 380.60,80.80 C382.60,85.02 384.30,91.36 384.30,98.40 C384.30,105.44 383.60,112.48 383.60,116.00 L368.00,116.00 C368.00,112.48 367.30,105.44 367.30,98.40 C367.30,91.36 369.00,85.02 371.00,80.80 Z"/><path d="M367.8,52 L380.8,52 C379.8,62 381.3,74 381.1,85 L368.1,85 C368.8,74 367.3,62 367.8,52 Z" opacity="0.55"/></g>
<g filter="url(#soft)"><path d="M366,37.2 C367.8,35.2 373,34 379,33.6 C378.6,40 377,45.5 375.6,50.3 L371,50.3 C369,46 365.6,40.5 366,37.2 Z" fill="url(#gCore)"/><path d="M373.60,84.60 C374.70,83.80 376.90,83.80 378.00,84.60 C379.56,87.80 380.50,92.61 380.50,97.95 C380.50,103.29 380.00,108.63 380.00,111.30 L371.60,111.30 C371.60,108.63 371.10,103.29 371.10,97.95 C371.10,92.61 372.04,87.80 373.60,84.60 Z" fill="url(#gCoreB)"/></g>
<ellipse cx="372.2" cy="38.6" rx="1.7" ry="1.3" fill="#2a2a2a" filter="url(#dotb)"/>
</g>
<rect x="329.3" y="18" width="89.19999999999999" height="96" fill="none" stroke="#9c9c9c" stroke-width="1.1"/>
<line x1="452.4" y1="18" x2="452.4" y2="114" stroke="#9c9c9c" stroke-width="1.1"/>
<line x1="452.4" y1="74.3" x2="513.3" y2="74.3" stroke="#9c9c9c" stroke-width="1.1"/>
<g clip-path="url(#clA4)">
<g filter="url(#spH)" opacity="1"><path d="M459.6,89.3 C459.6,80.85 464.685,76.3 470.9,76.3 C477.115,76.3 482.2,80.85 482.2,89.3 L482.2,113 C482.2,114.8 476.55,116 470.9,116 C465.25,116 459.6,114.8 459.6,113 Z"/></g>
<g filter="url(#spA)"><ellipse cx="471" cy="96" rx="17" ry="24" fill="url(#gSoft)" opacity="0.2"/><ellipse cx="468" cy="70" rx="8" ry="5" fill="url(#gSoft)" opacity="0.15"/><path d="M459.6,89.3 C459.6,80.85 464.685,76.3 470.9,76.3 C477.115,76.3 482.2,80.85 482.2,89.3 L482.2,113 C482.2,114.8 476.55,116 470.9,116 C465.25,116 459.6,114.8 459.6,113 Z"/></g>
<g filter="url(#soft)"><path d="M465.4,88.8 C465.4,83.925 467.83,81.3 470.79999999999995,81.3 C473.77,81.3 476.2,83.925 476.2,88.8 L476.2,108.3 C476.2,110.1 473.5,111.3 470.79999999999995,111.3 C468.09999999999997,111.3 465.4,110.1 465.4,108.3 Z" fill="url(#gCoreB)"/></g>

</g>
<rect x="424.4" y="18" width="88.89999999999998" height="96" fill="none" stroke="#9c9c9c" stroke-width="1.1"/>
<g clip-path="url(#clD)">
<g filter="url(#spG)"><rect x="36.0" y="358.1" width="9.62" height="9.66" opacity="0.01"/><rect x="45.6" y="358.1" width="9.62" height="9.66" opacity="0.01"/><rect x="55.2" y="358.1" width="9.62" height="9.66" opacity="0.01"/><rect x="64.7" y="358.1" width="9.62" height="9.66" opacity="0.01"/><rect x="74.3" y="358.1" width="9.62" height="9.66" opacity="0.02"/><rect x="83.9" y="358.1" width="9.62" height="9.66" opacity="0.03"/><rect x="93.4" y="358.1" width="9.62" height="9.66" opacity="0.06"/><rect x="103.0" y="358.1" width="9.62" height="9.66" opacity="0.08"/><rect x="112.6" y="358.1" width="9.62" height="9.66" opacity="0.04"/><rect x="122.1" y="358.1" width="9.62" height="9.66" opacity="0.03"/><rect x="131.7" y="358.1" width="9.62" height="9.66" opacity="0.02"/><rect x="141.3" y="358.1" width="9.62" height="9.66" opacity="0.02"/><rect x="150.8" y="358.1" width="9.62" height="9.66" opacity="0.02"/><rect x="160.4" y="358.1" width="9.62" height="9.66" opacity="0.02"/><rect x="36.0" y="367.7" width="9.62" height="9.66" opacity="0.01"/><rect x="45.6" y="367.7" width="9.62" height="9.66" opacity="0.01"/><rect x="55.2" y="367.7" width="9.62" height="9.66" opacity="0.01"/><rect x="64.7" y="367.7" width="9.62" height="9.66" opacity="0.01"/><rect x="74.3" y="367.7" width="9.62" height="9.66" opacity="0.02"/><rect x="83.9" y="367.7" width="9.62" height="9.66" opacity="0.03"/><rect x="93.4" y="367.7" width="9.62" height="9.66" opacity="0.06"/><rect x="103.0" y="367.7" width="9.62" height="9.66" opacity="0.08"/><rect x="112.6" y="367.7" width="9.62" height="9.66" opacity="0.04"/><rect x="122.1" y="367.7" width="9.62" height="9.66" opacity="0.03"/><rect x="131.7" y="367.7" width="9.62" height="9.66" opacity="0.02"/><rect x="141.3" y="367.7" width="9.62" height="9.66" opacity="0.02"/><rect x="150.8" y="367.7" width="9.62" height="9.66" opacity="0.02"/><rect x="160.4" y="367.7" width="9.62" height="9.66" opacity="0.02"/><rect x="36.0" y="377.3" width="9.62" height="9.66" opacity="0.01"/><rect x="45.6" y="377.3" width="9.62" height="9.66" opacity="0.01"/><rect x="55.2" y="377.3" width="9.62" height="9.66" opacity="0.01"/><rect x="64.7" y="377.3" width="9.62" height="9.66" opacity="0.02"/><rect x="74.3" y="377.3" width="9.62" height="9.66" opacity="0.03"/><rect x="83.9" y="377.3" width="9.62" height="9.66" opacity="0.1"/><rect x="93.4" y="377.3" width="9.62" height="9.66" opacity="0.25"/><rect x="103.0" y="377.3" width="9.62" height="9.66" opacity="0.3"/><rect x="112.6" y="377.3" width="9.62" height="9.66" opacity="0.15"/><rect x="122.1" y="377.3" width="9.62" height="9.66" opacity="0.04"/><rect x="131.7" y="377.3" width="9.62" height="9.66" opacity="0.03"/><rect x="141.3" y="377.3" width="9.62" height="9.66" opacity="0.03"/><rect x="150.8" y="377.3" width="9.62" height="9.66" opacity="0.03"/><rect x="160.4" y="377.3" width="9.62" height="9.66" opacity="0.03"/><rect x="36.0" y="386.9" width="9.62" height="9.66" opacity="0.02"/><rect x="45.6" y="386.9" width="9.62" height="9.66" opacity="0.02"/><rect x="55.2" y="386.9" width="9.62" height="9.66" opacity="0.02"/><rect x="64.7" y="386.9" width="9.62" height="9.66" opacity="0.03"/><rect x="74.3" y="386.9" width="9.62" height="9.66" opacity="0.05"/><rect x="83.9" y="386.9" width="9.62" height="9.66" opacity="0.2"/><rect x="93.4" y="386.9" width="9.62" height="9.66" opacity="0.35"/><rect x="103.0" y="386.9" width="9.62" height="9.66" opacity="0.35"/><rect x="112.6" y="386.9" width="9.62" height="9.66" opacity="0.2"/><rect x="122.1" y="386.9" width="9.62" height="9.66" opacity="0.06"/><rect x="131.7" y="386.9" width="9.62" height="9.66" opacity="0.05"/><rect x="141.3" y="386.9" width="9.62" height="9.66" opacity="0.05"/><rect x="150.8" y="386.9" width="9.62" height="9.66" opacity="0.06"/><rect x="160.4" y="386.9" width="9.62" height="9.66" opacity="0.06"/><rect x="36.0" y="396.5" width="9.62" height="9.66" opacity="0.03"/><rect x="45.6" y="396.5" width="9.62" height="9.66" opacity="0.03"/><rect x="55.2" y="396.5" width="9.62" height="9.66" opacity="0.04"/><rect x="64.7" y="396.5" width="9.62" height="9.66" opacity="0.06"/><rect x="74.3" y="396.5" width="9.62" height="9.66" opacity="0.12"/><rect x="83.9" y="396.5" width="9.62" height="9.66" opacity="0.25"/><rect x="93.4" y="396.5" width="9.62" height="9.66" opacity="0.3"/><rect x="103.0" y="396.5" width="9.62" height="9.66" opacity="0.25"/><rect x="112.6" y="396.5" width="9.62" height="9.66" opacity="0.12"/><rect x="122.1" y="396.5" width="9.62" height="9.66" opacity="0.08"/><rect x="131.7" y="396.5" width="9.62" height="9.66" opacity="0.08"/><rect x="141.3" y="396.5" width="9.62" height="9.66" opacity="0.1"/><rect x="150.8" y="396.5" width="9.62" height="9.66" opacity="0.12"/><rect x="160.4" y="396.5" width="9.62" height="9.66" opacity="0.12"/><rect x="36.0" y="406.1" width="9.62" height="9.66" opacity="0.1"/><rect x="45.6" y="406.1" width="9.62" height="9.66" opacity="0.1"/><rect x="55.2" y="406.1" width="9.62" height="9.66" opacity="0.12"/><rect x="64.7" y="406.1" width="9.62" height="9.66" opacity="0.18"/><rect x="74.3" y="406.1" width="9.62" height="9.66" opacity="0.22"/><rect x="83.9" y="406.1" width="9.62" height="9.66" opacity="0.25"/><rect x="93.4" y="406.1" width="9.62" height="9.66" opacity="0.25"/><rect x="103.0" y="406.1" width="9.62" height="9.66" opacity="0.2"/><rect x="112.6" y="406.1" width="9.62" height="9.66" opacity="0.15"/><rect x="122.1" y="406.1" width="9.62" height="9.66" opacity="0.15"/><rect x="131.7" y="406.1" width="9.62" height="9.66" opacity="0.2"/><rect x="141.3" y="406.1" width="9.62" height="9.66" opacity="0.25"/><rect x="150.8" y="406.1" width="9.62" height="9.66" opacity="0.25"/><rect x="160.4" y="406.1" width="9.62" height="9.66" opacity="0.25"/><rect x="36.0" y="415.7" width="9.62" height="9.66" opacity="0.25"/><rect x="45.6" y="415.7" width="9.62" height="9.66" opacity="0.25"/><rect x="55.2" y="415.7" width="9.62" height="9.66" opacity="0.3"/><rect x="64.7" y="415.7" width="9.62" height="9.66" opacity="0.35"/><rect x="74.3" y="415.7" width="9.62" height="9.66" opacity="0.35"/><rect x="83.9" y="415.7" width="9.62" height="9.66" opacity="0.3"/><rect x="93.4" y="415.7" width="9.62" height="9.66" opacity="0.25"/><rect x="103.0" y="415.7" width="9.62" height="9.66" opacity="0.2"/><rect x="112.6" y="415.7" width="9.62" height="9.66" opacity="0.25"/><rect x="122.1" y="415.7" width="9.62" height="9.66" opacity="0.4"/><rect x="131.7" y="415.7" width="9.62" height="9.66" opacity="0.5"/><rect x="141.3" y="415.7" width="9.62" height="9.66" opacity="0.45"/><rect x="150.8" y="415.7" width="9.62" height="9.66" opacity="0.35"/><rect x="160.4" y="415.7" width="9.62" height="9.66" opacity="0.35"/><rect x="36.0" y="425.4" width="9.62" height="9.66" opacity="0.5"/><rect x="45.6" y="425.4" width="9.62" height="9.66" opacity="0.5"/><rect x="55.2" y="425.4" width="9.62" height="9.66" opacity="0.55"/><rect x="64.7" y="425.4" width="9.62" height="9.66" opacity="0.55"/><rect x="74.3" y="425.4" width="9.62" height="9.66" opacity="0.5"/><rect x="83.9" y="425.4" width="9.62" height="9.66" opacity="0.4"/><rect x="93.4" y="425.4" width="9.62" height="9.66" opacity="0.35"/><rect x="103.0" y="425.4" width="9.62" height="9.66" opacity="0.35"/><rect x="112.6" y="425.4" width="9.62" height="9.66" opacity="0.4"/><rect x="122.1" y="425.4" width="9.62" height="9.66" opacity="0.55"/><rect x="131.7" y="425.4" width="9.62" height="9.66" opacity="0.65"/><rect x="141.3" y="425.4" width="9.62" height="9.66" opacity="0.55"/><rect x="150.8" y="425.4" width="9.62" height="9.66" opacity="0.4"/><rect x="160.4" y="425.4" width="9.62" height="9.66" opacity="0.4"/><rect x="36.0" y="435.0" width="9.62" height="9.66" opacity="0.65"/><rect x="45.6" y="435.0" width="9.62" height="9.66" opacity="0.65"/><rect x="55.2" y="435.0" width="9.62" height="9.66" opacity="0.7"/><rect x="64.7" y="435.0" width="9.62" height="9.66" opacity="0.7"/><rect x="74.3" y="435.0" width="9.62" height="9.66" opacity="0.6"/><rect x="83.9" y="435.0" width="9.62" height="9.66" opacity="0.5"/><rect x="93.4" y="435.0" width="9.62" height="9.66" opacity="0.45"/><rect x="103.0" y="435.0" width="9.62" height="9.66" opacity="0.45"/><rect x="112.6" y="435.0" width="9.62" height="9.66" opacity="0.45"/><rect x="122.1" y="435.0" width="9.62" height="9.66" opacity="0.5"/><rect x="131.7" y="435.0" width="9.62" height="9.66" opacity="0.6"/><rect x="141.3" y="435.0" width="9.62" height="9.66" opacity="0.5"/><rect x="150.8" y="435.0" width="9.62" height="9.66" opacity="0.45"/><rect x="160.4" y="435.0" width="9.62" height="9.66" opacity="0.45"/><rect x="36.0" y="444.6" width="9.62" height="9.66" opacity="0.65"/><rect x="45.6" y="444.6" width="9.62" height="9.66" opacity="0.65"/><rect x="55.2" y="444.6" width="9.62" height="9.66" opacity="0.65"/><rect x="64.7" y="444.6" width="9.62" height="9.66" opacity="0.65"/><rect x="74.3" y="444.6" width="9.62" height="9.66" opacity="0.6"/><rect x="83.9" y="444.6" width="9.62" height="9.66" opacity="0.6"/><rect x="93.4" y="444.6" width="9.62" height="9.66" opacity="0.6"/><rect x="103.0" y="444.6" width="9.62" height="9.66" opacity="0.55"/><rect x="112.6" y="444.6" width="9.62" height="9.66" opacity="0.5"/><rect x="122.1" y="444.6" width="9.62" height="9.66" opacity="0.4"/><rect x="131.7" y="444.6" width="9.62" height="9.66" opacity="0.4"/><rect x="141.3" y="444.6" width="9.62" height="9.66" opacity="0.5"/><rect x="150.8" y="444.6" width="9.62" height="9.66" opacity="0.6"/><rect x="160.4" y="444.6" width="9.62" height="9.66" opacity="0.6"/><rect x="36.0" y="454.2" width="9.62" height="9.66" opacity="0.6"/><rect x="45.6" y="454.2" width="9.62" height="9.66" opacity="0.6"/><rect x="55.2" y="454.2" width="9.62" height="9.66" opacity="0.6"/><rect x="64.7" y="454.2" width="9.62" height="9.66" opacity="0.6"/><rect x="74.3" y="454.2" width="9.62" height="9.66" opacity="0.65"/><rect x="83.9" y="454.2" width="9.62" height="9.66" opacity="0.65"/><rect x="93.4" y="454.2" width="9.62" height="9.66" opacity="0.65"/><rect x="103.0" y="454.2" width="9.62" height="9.66" opacity="0.6"/><rect x="112.6" y="454.2" width="9.62" height="9.66" opacity="0.55"/><rect x="122.1" y="454.2" width="9.62" height="9.66" opacity="0.35"/><rect x="131.7" y="454.2" width="9.62" height="9.66" opacity="0.35"/><rect x="141.3" y="454.2" width="9.62" height="9.66" opacity="0.5"/><rect x="150.8" y="454.2" width="9.62" height="9.66" opacity="0.6"/><rect x="160.4" y="454.2" width="9.62" height="9.66" opacity="0.6"/><rect x="36.0" y="463.8" width="9.62" height="9.66" opacity="0.6"/><rect x="45.6" y="463.8" width="9.62" height="9.66" opacity="0.6"/><rect x="55.2" y="463.8" width="9.62" height="9.66" opacity="0.6"/><rect x="64.7" y="463.8" width="9.62" height="9.66" opacity="0.6"/><rect x="74.3" y="463.8" width="9.62" height="9.66" opacity="0.65"/><rect x="83.9" y="463.8" width="9.62" height="9.66" opacity="0.65"/><rect x="93.4" y="463.8" width="9.62" height="9.66" opacity="0.6"/><rect x="103.0" y="463.8" width="9.62" height="9.66" opacity="0.55"/><rect x="112.6" y="463.8" width="9.62" height="9.66" opacity="0.5"/><rect x="122.1" y="463.8" width="9.62" height="9.66" opacity="0.3"/><rect x="131.7" y="463.8" width="9.62" height="9.66" opacity="0.2"/><rect x="141.3" y="463.8" width="9.62" height="9.66" opacity="0.25"/><rect x="150.8" y="463.8" width="9.62" height="9.66" opacity="0.3"/><rect x="160.4" y="463.8" width="9.62" height="9.66" opacity="0.3"/><rect x="36.0" y="473.4" width="9.62" height="9.66" opacity="0.6"/><rect x="45.6" y="473.4" width="9.62" height="9.66" opacity="0.6"/><rect x="55.2" y="473.4" width="9.62" height="9.66" opacity="0.6"/><rect x="64.7" y="473.4" width="9.62" height="9.66" opacity="0.6"/><rect x="74.3" y="473.4" width="9.62" height="9.66" opacity="0.6"/><rect x="83.9" y="473.4" width="9.62" height="9.66" opacity="0.6"/><rect x="93.4" y="473.4" width="9.62" height="9.66" opacity="0.55"/><rect x="103.0" y="473.4" width="9.62" height="9.66" opacity="0.5"/><rect x="112.6" y="473.4" width="9.62" height="9.66" opacity="0.4"/><rect x="122.1" y="473.4" width="9.62" height="9.66" opacity="0.2"/><rect x="131.7" y="473.4" width="9.62" height="9.66" opacity="0.12"/><rect x="141.3" y="473.4" width="9.62" height="9.66" opacity="0.08"/><rect x="150.8" y="473.4" width="9.62" height="9.66" opacity="0.06"/><rect x="160.4" y="473.4" width="9.62" height="9.66" opacity="0.06"/><rect x="36.0" y="483.0" width="9.62" height="9.66" opacity="0.6"/><rect x="45.6" y="483.0" width="9.62" height="9.66" opacity="0.6"/><rect x="55.2" y="483.0" width="9.62" height="9.66" opacity="0.6"/><rect x="64.7" y="483.0" width="9.62" height="9.66" opacity="0.6"/><rect x="74.3" y="483.0" width="9.62" height="9.66" opacity="0.6"/><rect x="83.9" y="483.0" width="9.62" height="9.66" opacity="0.6"/><rect x="93.4" y="483.0" width="9.62" height="9.66" opacity="0.55"/><rect x="103.0" y="483.0" width="9.62" height="9.66" opacity="0.5"/><rect x="112.6" y="483.0" width="9.62" height="9.66" opacity="0.4"/><rect x="122.1" y="483.0" width="9.62" height="9.66" opacity="0.2"/><rect x="131.7" y="483.0" width="9.62" height="9.66" opacity="0.12"/><rect x="141.3" y="483.0" width="9.62" height="9.66" opacity="0.08"/><rect x="150.8" y="483.0" width="9.62" height="9.66" opacity="0.06"/><rect x="160.4" y="483.0" width="9.62" height="9.66" opacity="0.06"/><ellipse cx="103" cy="397" rx="24" ry="9" fill="url(#gSoft)" opacity="0.6" transform="rotate(-36 103 397)"/><ellipse cx="103" cy="396.5" rx="19" ry="4.5" fill="url(#gPlat)" opacity="0.85" transform="rotate(-36 103 396.5)"/><ellipse cx="136" cy="430" rx="19" ry="16" fill="url(#gSoft)" opacity="0.75"/><ellipse cx="135" cy="429" rx="9" ry="7" fill="url(#gPlat)" opacity="0.5"/><ellipse cx="153" cy="452" rx="9" ry="12" fill="url(#gSoft)" opacity="0.7"/><rect x="157.5" y="405" width="3" height="75" opacity="0.35"/><ellipse cx="66" cy="466.5" rx="23" ry="19" fill="none" stroke="#000" stroke-width="9" opacity="0.6"/></g>
<g filter="url(#blur3)"><ellipse cx="66" cy="467" rx="22.5" ry="18" fill="#bdbdbd"/><ellipse cx="64" cy="469.5" rx="15" ry="12" fill="#cbcbcb"/></g>
<g filter="url(#spT)"><ellipse cx="66" cy="466.5" rx="22" ry="18" opacity="0.18"/></g>
</g>
<path d="M160.4,367.7 L45.6,367.7 L45.6,483.0 L160.4,483.0" fill="none" stroke="#9a9a9a" stroke-width="1.1"/>
<rect x="76" y="384.7" width="54" height="26" rx="13" ry="13" transform="rotate(-36 103 397.7)" fill="none" stroke="#404040" stroke-width="0.9"/>
<line x1="127.5" y1="388.5" x2="166.7" y2="388.5" stroke="#000" stroke-width="1.5"/>
<path d="M173.2,388.5 L166.2,385.6 L166.2,391.4 Z" fill="#000" stroke="none" stroke-width="1.0"/>
<g clip-path="url(#clE)">
<g filter="url(#spG2)"><rect x="36.0" y="513.3" width="9.62" height="9.59" opacity="0.02"/><rect x="45.6" y="513.3" width="9.62" height="9.59" opacity="0.02"/><rect x="55.2" y="513.3" width="9.62" height="9.59" opacity="0.02"/><rect x="64.7" y="513.3" width="9.62" height="9.59" opacity="0.03"/><rect x="74.3" y="513.3" width="9.62" height="9.59" opacity="0.04"/><rect x="83.9" y="513.3" width="9.62" height="9.59" opacity="0.1"/><rect x="93.4" y="513.3" width="9.62" height="9.59" opacity="0.32"/><rect x="103.0" y="513.3" width="9.62" height="9.59" opacity="0.41"/><rect x="112.6" y="513.3" width="9.62" height="9.59" opacity="0.45"/><rect x="122.1" y="513.3" width="9.62" height="9.59" opacity="0.1"/><rect x="131.7" y="513.3" width="9.62" height="9.59" opacity="0.02"/><rect x="141.3" y="513.3" width="9.62" height="9.59" opacity="0.02"/><rect x="150.8" y="513.3" width="9.62" height="9.59" opacity="0.02"/><rect x="160.4" y="513.3" width="9.62" height="9.59" opacity="0.02"/><rect x="36.0" y="522.8" width="9.62" height="9.59" opacity="0.02"/><rect x="45.6" y="522.8" width="9.62" height="9.59" opacity="0.02"/><rect x="55.2" y="522.8" width="9.62" height="9.59" opacity="0.02"/><rect x="64.7" y="522.8" width="9.62" height="9.59" opacity="0.03"/><rect x="74.3" y="522.8" width="9.62" height="9.59" opacity="0.04"/><rect x="83.9" y="522.8" width="9.62" height="9.59" opacity="0.1"/><rect x="93.4" y="522.8" width="9.62" height="9.59" opacity="0.32"/><rect x="103.0" y="522.8" width="9.62" height="9.59" opacity="0.41"/><rect x="112.6" y="522.8" width="9.62" height="9.59" opacity="0.45"/><rect x="122.1" y="522.8" width="9.62" height="9.59" opacity="0.1"/><rect x="131.7" y="522.8" width="9.62" height="9.59" opacity="0.02"/><rect x="141.3" y="522.8" width="9.62" height="9.59" opacity="0.02"/><rect x="150.8" y="522.8" width="9.62" height="9.59" opacity="0.02"/><rect x="160.4" y="522.8" width="9.62" height="9.59" opacity="0.02"/><rect x="36.0" y="532.3" width="9.62" height="9.59" opacity="0.03"/><rect x="45.6" y="532.3" width="9.62" height="9.59" opacity="0.03"/><rect x="55.2" y="532.3" width="9.62" height="9.59" opacity="0.05"/><rect x="64.7" y="532.3" width="9.62" height="9.59" opacity="0.1"/><rect x="74.3" y="532.3" width="9.62" height="9.59" opacity="0.18"/><rect x="83.9" y="532.3" width="9.62" height="9.59" opacity="0.36"/><rect x="93.4" y="532.3" width="9.62" height="9.59" opacity="0.49"/><rect x="103.0" y="532.3" width="9.62" height="9.59" opacity="0.58"/><rect x="112.6" y="532.3" width="9.62" height="9.59" opacity="0.54"/><rect x="122.1" y="532.3" width="9.62" height="9.59" opacity="0.15"/><rect x="131.7" y="532.3" width="9.62" height="9.59" opacity="0.02"/><rect x="141.3" y="532.3" width="9.62" height="9.59" opacity="0.02"/><rect x="150.8" y="532.3" width="9.62" height="9.59" opacity="0.02"/><rect x="160.4" y="532.3" width="9.62" height="9.59" opacity="0.02"/><rect x="36.0" y="541.9" width="9.62" height="9.59" opacity="0.08"/><rect x="45.6" y="541.9" width="9.62" height="9.59" opacity="0.08"/><rect x="55.2" y="541.9" width="9.62" height="9.59" opacity="0.15"/><rect x="64.7" y="541.9" width="9.62" height="9.59" opacity="0.27"/><rect x="74.3" y="541.9" width="9.62" height="9.59" opacity="0.41"/><rect x="83.9" y="541.9" width="9.62" height="9.59" opacity="0.54"/><rect x="93.4" y="541.9" width="9.62" height="9.59" opacity="0.63"/><rect x="103.0" y="541.9" width="9.62" height="9.59" opacity="0.63"/><rect x="112.6" y="541.9" width="9.62" height="9.59" opacity="0.49"/><rect x="122.1" y="541.9" width="9.62" height="9.59" opacity="0.15"/><rect x="131.7" y="541.9" width="9.62" height="9.59" opacity="0.03"/><rect x="141.3" y="541.9" width="9.62" height="9.59" opacity="0.02"/><rect x="150.8" y="541.9" width="9.62" height="9.59" opacity="0.02"/><rect x="160.4" y="541.9" width="9.62" height="9.59" opacity="0.02"/><rect x="36.0" y="551.4" width="9.62" height="9.59" opacity="0.18"/><rect x="45.6" y="551.4" width="9.62" height="9.59" opacity="0.18"/><rect x="55.2" y="551.4" width="9.62" height="9.59" opacity="0.32"/><rect x="64.7" y="551.4" width="9.62" height="9.59" opacity="0.41"/><rect x="74.3" y="551.4" width="9.62" height="9.59" opacity="0.49"/><rect x="83.9" y="551.4" width="9.62" height="9.59" opacity="0.58"/><rect x="93.4" y="551.4" width="9.62" height="9.59" opacity="0.63"/><rect x="103.0" y="551.4" width="9.62" height="9.59" opacity="0.58"/><rect x="112.6" y="551.4" width="9.62" height="9.59" opacity="0.41"/><rect x="122.1" y="551.4" width="9.62" height="9.59" opacity="0.1"/><rect x="131.7" y="551.4" width="9.62" height="9.59" opacity="0.03"/><rect x="141.3" y="551.4" width="9.62" height="9.59" opacity="0.02"/><rect x="150.8" y="551.4" width="9.62" height="9.59" opacity="0.02"/><rect x="160.4" y="551.4" width="9.62" height="9.59" opacity="0.02"/><rect x="36.0" y="561.0" width="9.62" height="9.59" opacity="0.58"/><rect x="45.6" y="561.0" width="9.62" height="9.59" opacity="0.58"/><rect x="55.2" y="561.0" width="9.62" height="9.59" opacity="0.63"/><rect x="64.7" y="561.0" width="9.62" height="9.59" opacity="0.63"/><rect x="74.3" y="561.0" width="9.62" height="9.59" opacity="0.58"/><rect x="83.9" y="561.0" width="9.62" height="9.59" opacity="0.63"/><rect x="93.4" y="561.0" width="9.62" height="9.59" opacity="0.58"/><rect x="103.0" y="561.0" width="9.62" height="9.59" opacity="0.54"/><rect x="112.6" y="561.0" width="9.62" height="9.59" opacity="0.27"/><rect x="122.1" y="561.0" width="9.62" height="9.59" opacity="0.08"/><rect x="131.7" y="561.0" width="9.62" height="9.59" opacity="0.02"/><rect x="141.3" y="561.0" width="9.62" height="9.59" opacity="0.02"/><rect x="150.8" y="561.0" width="9.62" height="9.59" opacity="0.02"/><rect x="160.4" y="561.0" width="9.62" height="9.59" opacity="0.02"/><rect x="36.0" y="570.5" width="9.62" height="9.59" opacity="0.63"/><rect x="45.6" y="570.5" width="9.62" height="9.59" opacity="0.63"/><rect x="55.2" y="570.5" width="9.62" height="9.59" opacity="0.63"/><rect x="64.7" y="570.5" width="9.62" height="9.59" opacity="0.63"/><rect x="74.3" y="570.5" width="9.62" height="9.59" opacity="0.63"/><rect x="83.9" y="570.5" width="9.62" height="9.59" opacity="0.63"/><rect x="93.4" y="570.5" width="9.62" height="9.59" opacity="0.63"/><rect x="103.0" y="570.5" width="9.62" height="9.59" opacity="0.45"/><rect x="112.6" y="570.5" width="9.62" height="9.59" opacity="0.18"/><rect x="122.1" y="570.5" width="9.62" height="9.59" opacity="0.05"/><rect x="131.7" y="570.5" width="9.62" height="9.59" opacity="0.02"/><rect x="141.3" y="570.5" width="9.62" height="9.59" opacity="0.02"/><rect x="150.8" y="570.5" width="9.62" height="9.59" opacity="0.02"/><rect x="160.4" y="570.5" width="9.62" height="9.59" opacity="0.02"/><rect x="36.0" y="580.0" width="9.62" height="9.59" opacity="0.63"/><rect x="45.6" y="580.0" width="9.62" height="9.59" opacity="0.63"/><rect x="55.2" y="580.0" width="9.62" height="9.59" opacity="0.63"/><rect x="64.7" y="580.0" width="9.62" height="9.59" opacity="0.63"/><rect x="74.3" y="580.0" width="9.62" height="9.59" opacity="0.63"/><rect x="83.9" y="580.0" width="9.62" height="9.59" opacity="0.63"/><rect x="93.4" y="580.0" width="9.62" height="9.59" opacity="0.54"/><rect x="103.0" y="580.0" width="9.62" height="9.59" opacity="0.27"/><rect x="112.6" y="580.0" width="9.62" height="9.59" opacity="0.05"/><rect x="122.1" y="580.0" width="9.62" height="9.59" opacity="0.02"/><rect x="131.7" y="580.0" width="9.62" height="9.59" opacity="0.02"/><rect x="141.3" y="580.0" width="9.62" height="9.59" opacity="0.02"/><rect x="150.8" y="580.0" width="9.62" height="9.59" opacity="0.02"/><rect x="160.4" y="580.0" width="9.62" height="9.59" opacity="0.02"/><rect x="36.0" y="589.6" width="9.62" height="9.59" opacity="0.63"/><rect x="45.6" y="589.6" width="9.62" height="9.59" opacity="0.63"/><rect x="55.2" y="589.6" width="9.62" height="9.59" opacity="0.63"/><rect x="64.7" y="589.6" width="9.62" height="9.59" opacity="0.63"/><rect x="74.3" y="589.6" width="9.62" height="9.59" opacity="0.68"/><rect x="83.9" y="589.6" width="9.62" height="9.59" opacity="0.63"/><rect x="93.4" y="589.6" width="9.62" height="9.59" opacity="0.41"/><rect x="103.0" y="589.6" width="9.62" height="9.59" opacity="0.18"/><rect x="112.6" y="589.6" width="9.62" height="9.59" opacity="0.05"/><rect x="122.1" y="589.6" width="9.62" height="9.59" opacity="0.02"/><rect x="131.7" y="589.6" width="9.62" height="9.59" opacity="0.02"/><rect x="141.3" y="589.6" width="9.62" height="9.59" opacity="0.02"/><rect x="150.8" y="589.6" width="9.62" height="9.59" opacity="0.02"/><rect x="160.4" y="589.6" width="9.62" height="9.59" opacity="0.02"/><rect x="36.0" y="599.1" width="9.62" height="9.59" opacity="0.63"/><rect x="45.6" y="599.1" width="9.62" height="9.59" opacity="0.63"/><rect x="55.2" y="599.1" width="9.62" height="9.59" opacity="0.63"/><rect x="64.7" y="599.1" width="9.62" height="9.59" opacity="0.63"/><rect x="74.3" y="599.1" width="9.62" height="9.59" opacity="0.63"/><rect x="83.9" y="599.1" width="9.62" height="9.59" opacity="0.54"/><rect x="93.4" y="599.1" width="9.62" height="9.59" opacity="0.27"/><rect x="103.0" y="599.1" width="9.62" height="9.59" opacity="0.12"/><rect x="112.6" y="599.1" width="9.62" height="9.59" opacity="0.03"/><rect x="122.1" y="599.1" width="9.62" height="9.59" opacity="0.02"/><rect x="131.7" y="599.1" width="9.62" height="9.59" opacity="0.02"/><rect x="141.3" y="599.1" width="9.62" height="9.59" opacity="0.02"/><rect x="150.8" y="599.1" width="9.62" height="9.59" opacity="0.02"/><rect x="160.4" y="599.1" width="9.62" height="9.59" opacity="0.02"/><rect x="36.0" y="608.7" width="9.62" height="9.59" opacity="0.63"/><rect x="45.6" y="608.7" width="9.62" height="9.59" opacity="0.63"/><rect x="55.2" y="608.7" width="9.62" height="9.59" opacity="0.58"/><rect x="64.7" y="608.7" width="9.62" height="9.59" opacity="0.58"/><rect x="74.3" y="608.7" width="9.62" height="9.59" opacity="0.63"/><rect x="83.9" y="608.7" width="9.62" height="9.59" opacity="0.45"/><rect x="93.4" y="608.7" width="9.62" height="9.59" opacity="0.18"/><rect x="103.0" y="608.7" width="9.62" height="9.59" opacity="0.08"/><rect x="112.6" y="608.7" width="9.62" height="9.59" opacity="0.02"/><rect x="122.1" y="608.7" width="9.62" height="9.59" opacity="0.02"/><rect x="131.7" y="608.7" width="9.62" height="9.59" opacity="0.02"/><rect x="141.3" y="608.7" width="9.62" height="9.59" opacity="0.02"/><rect x="150.8" y="608.7" width="9.62" height="9.59" opacity="0.02"/><rect x="160.4" y="608.7" width="9.62" height="9.59" opacity="0.02"/><rect x="36.0" y="618.2" width="9.62" height="9.59" opacity="0.63"/><rect x="45.6" y="618.2" width="9.62" height="9.59" opacity="0.63"/><rect x="55.2" y="618.2" width="9.62" height="9.59" opacity="0.63"/><rect x="64.7" y="618.2" width="9.62" height="9.59" opacity="0.63"/><rect x="74.3" y="618.2" width="9.62" height="9.59" opacity="0.63"/><rect x="83.9" y="618.2" width="9.62" height="9.59" opacity="0.36"/><rect x="93.4" y="618.2" width="9.62" height="9.59" opacity="0.15"/><rect x="103.0" y="618.2" width="9.62" height="9.59" opacity="0.05"/><rect x="112.6" y="618.2" width="9.62" height="9.59" opacity="0.02"/><rect x="122.1" y="618.2" width="9.62" height="9.59" opacity="0.02"/><rect x="131.7" y="618.2" width="9.62" height="9.59" opacity="0.02"/><rect x="141.3" y="618.2" width="9.62" height="9.59" opacity="0.02"/><rect x="150.8" y="618.2" width="9.62" height="9.59" opacity="0.02"/><rect x="160.4" y="618.2" width="9.62" height="9.59" opacity="0.02"/><rect x="36.0" y="627.8" width="9.62" height="9.59" opacity="0.63"/><rect x="45.6" y="627.8" width="9.62" height="9.59" opacity="0.63"/><rect x="55.2" y="627.8" width="9.62" height="9.59" opacity="0.63"/><rect x="64.7" y="627.8" width="9.62" height="9.59" opacity="0.58"/><rect x="74.3" y="627.8" width="9.62" height="9.59" opacity="0.54"/><rect x="83.9" y="627.8" width="9.62" height="9.59" opacity="0.32"/><rect x="93.4" y="627.8" width="9.62" height="9.59" opacity="0.1"/><rect x="103.0" y="627.8" width="9.62" height="9.59" opacity="0.05"/><rect x="112.6" y="627.8" width="9.62" height="9.59" opacity="0.02"/><rect x="122.1" y="627.8" width="9.62" height="9.59" opacity="0.02"/><rect x="131.7" y="627.8" width="9.62" height="9.59" opacity="0.02"/><rect x="141.3" y="627.8" width="9.62" height="9.59" opacity="0.02"/><rect x="150.8" y="627.8" width="9.62" height="9.59" opacity="0.02"/><rect x="160.4" y="627.8" width="9.62" height="9.59" opacity="0.02"/><rect x="36.0" y="637.3" width="9.62" height="9.59" opacity="0.63"/><rect x="45.6" y="637.3" width="9.62" height="9.59" opacity="0.63"/><rect x="55.2" y="637.3" width="9.62" height="9.59" opacity="0.63"/><rect x="64.7" y="637.3" width="9.62" height="9.59" opacity="0.58"/><rect x="74.3" y="637.3" width="9.62" height="9.59" opacity="0.54"/><rect x="83.9" y="637.3" width="9.62" height="9.59" opacity="0.32"/><rect x="93.4" y="637.3" width="9.62" height="9.59" opacity="0.1"/><rect x="103.0" y="637.3" width="9.62" height="9.59" opacity="0.05"/><rect x="112.6" y="637.3" width="9.62" height="9.59" opacity="0.02"/><rect x="122.1" y="637.3" width="9.62" height="9.59" opacity="0.02"/><rect x="131.7" y="637.3" width="9.62" height="9.59" opacity="0.02"/><rect x="141.3" y="637.3" width="9.62" height="9.59" opacity="0.02"/><rect x="150.8" y="637.3" width="9.62" height="9.59" opacity="0.02"/><rect x="160.4" y="637.3" width="9.62" height="9.59" opacity="0.02"/><path d="M48.5,566 C54,562.5 70,562 78,566 C81,580 78,597 72.5,609 C65,614 55,613 48.5,609 Z" fill="none" stroke="#000" stroke-width="8" opacity="0.75"/><rect x="44" y="560" width="5.5" height="80" opacity="0.5"/><ellipse cx="102" cy="548.5" rx="10" ry="17.5" transform="rotate(28 102 548.5)" fill="none" stroke="#000" stroke-width="7" opacity="0.75"/></g>
<g filter="url(#blur25)"><ellipse cx="62" cy="626" rx="13" ry="8" fill="#6a6a6a" opacity="0.55"/><path d="M48.5,566 C54,562.5 70,562 78,566 C81,580 78,597 72.5,609 C65,614 55,613 48.5,609 Z" fill="#c4c4c4"/><ellipse cx="61" cy="585" rx="11" ry="16" fill="#d2d2d2"/><ellipse cx="101.5" cy="547.5" rx="8.5" ry="15.5" transform="rotate(28 101.5 547.5)" fill="#c4c4c4"/><ellipse cx="101.5" cy="545" rx="4.5" ry="8.5" transform="rotate(28 101.5 545)" fill="#d0d0d0"/></g>
<g filter="url(#spT)"><path d="M48.5,566 C54,562.5 70,562 78,566 C81,580 78,597 72.5,609 C65,614 55,613 48.5,609 Z" opacity="0.16"/><ellipse cx="101.5" cy="547.5" rx="8.5" ry="15.5" transform="rotate(28 101.5 547.5)" opacity="0.16"/></g>
</g>
<rect x="45.6" y="522.8" width="114.80000000000001" height="114.5" fill="none" stroke="#9a9a9a" stroke-width="1.1"/>
<path d="M81.3,540 C84,532 90,526 96.5,523.3 L112.5,523.3 C118,526 122,530 122,537 C122,543 120,548 117,552" fill="none" stroke="#404040" stroke-width="0.9"/>
<line x1="122.8" y1="538.3" x2="166.7" y2="538.3" stroke="#000" stroke-width="1.5"/>
<path d="M173.2,538.3 L166.2,535.4 L166.2,541.1999999999999 Z" fill="#000" stroke="none" stroke-width="1.0"/>
</svg>
</body></html>
